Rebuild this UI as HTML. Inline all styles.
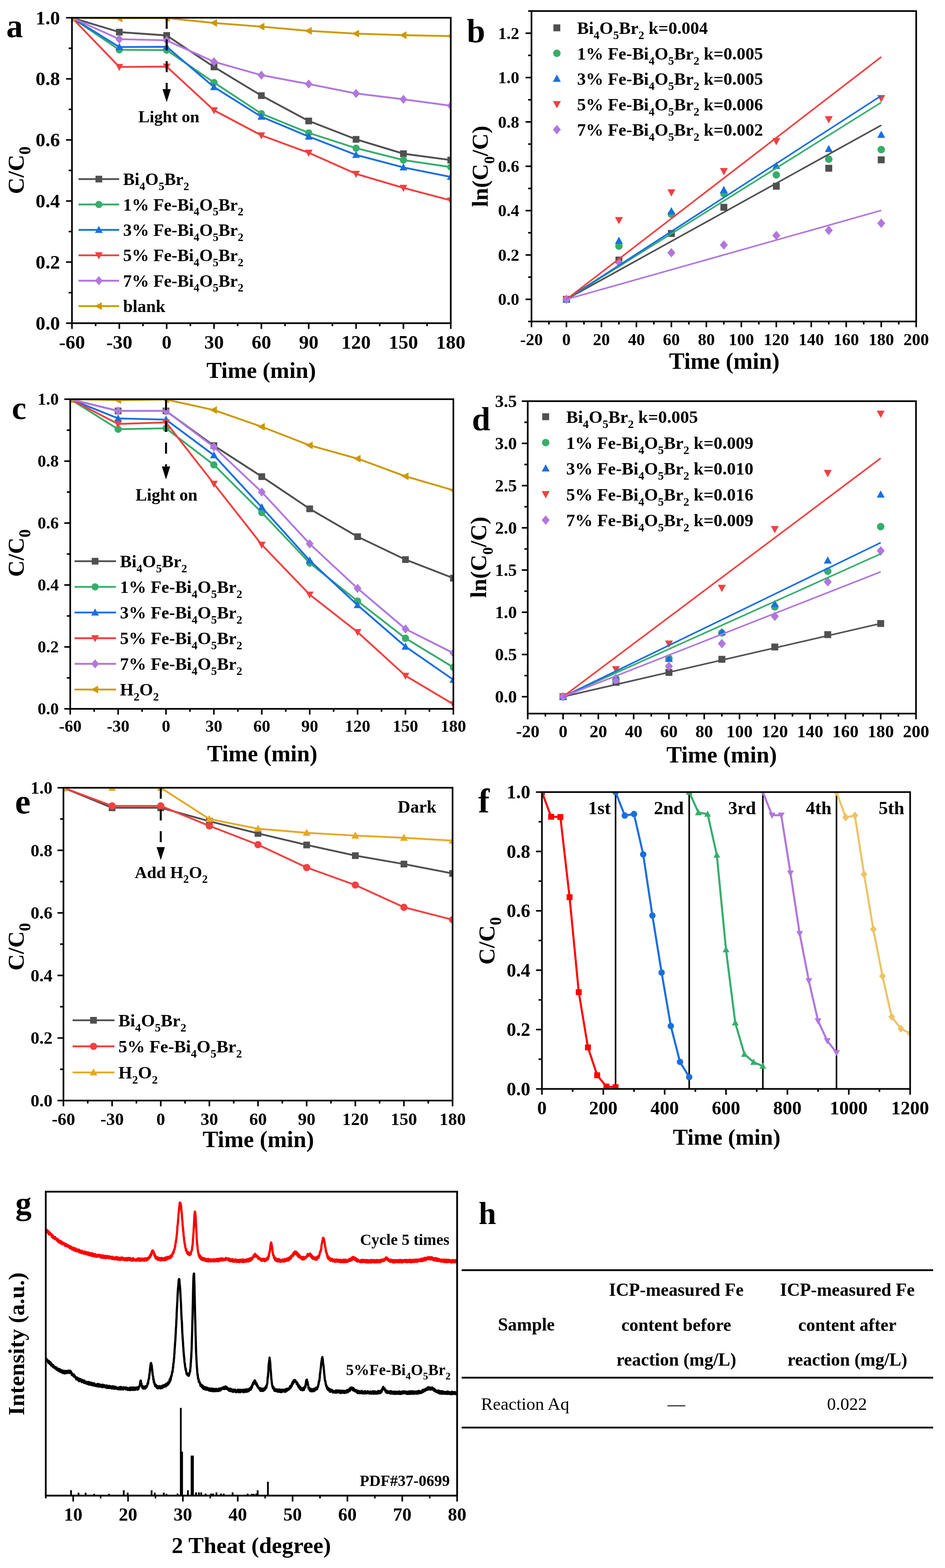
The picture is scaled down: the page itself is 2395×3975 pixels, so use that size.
<!DOCTYPE html><html><head><meta charset="utf-8"><style>html,body{margin:0;padding:0;background:#fff}svg{display:block}text{font-family:"Liberation Serif","Times New Roman",serif;font-weight:bold;fill:#000}</style></head><body>
<svg width="2395" height="3975" viewBox="0 0 2395 3975">
<rect width="2395" height="3975" fill="#fff"/>
<clipPath id="clp1"><rect x="182.4" y="45" width="960" height="774.3"/></clipPath>
<g clip-path="url(#clp1)">
<polyline points="182.4,45 302.4,81.4 422.4,89.9 542.4,169.7 662.4,242.4 782.4,306.7 902.4,353.2 1022.4,389.6 1142.4,405.8" fill="none" stroke="#505050" stroke-width="4.6" stroke-linejoin="round"/>
<rect x="173.9" y="36.5" width="17" height="17" fill="#505050"/>
<rect x="293.9" y="72.9" width="17" height="17" fill="#505050"/>
<rect x="413.9" y="81.4" width="17" height="17" fill="#505050"/>
<rect x="533.9" y="161.2" width="17" height="17" fill="#505050"/>
<rect x="653.9" y="233.9" width="17" height="17" fill="#505050"/>
<rect x="773.9" y="298.2" width="17" height="17" fill="#505050"/>
<rect x="893.9" y="344.7" width="17" height="17" fill="#505050"/>
<rect x="1013.9" y="381.1" width="17" height="17" fill="#505050"/>
<rect x="1133.9" y="397.3" width="17" height="17" fill="#505050"/>
<polyline points="182.4,45 302.4,126.3 422.4,127.1 542.4,209.2 662.4,288.1 782.4,336.9 902.4,375.6 1022.4,405.8 1142.4,423.6" fill="none" stroke="#37AD6B" stroke-width="4.6" stroke-linejoin="round"/>
<circle cx="182.4" cy="45" r="9.2" fill="#37AD6B"/>
<circle cx="302.4" cy="126.3" r="9.2" fill="#37AD6B"/>
<circle cx="422.4" cy="127.1" r="9.2" fill="#37AD6B"/>
<circle cx="542.4" cy="209.2" r="9.2" fill="#37AD6B"/>
<circle cx="662.4" cy="288.1" r="9.2" fill="#37AD6B"/>
<circle cx="782.4" cy="336.9" r="9.2" fill="#37AD6B"/>
<circle cx="902.4" cy="375.6" r="9.2" fill="#37AD6B"/>
<circle cx="1022.4" cy="405.8" r="9.2" fill="#37AD6B"/>
<circle cx="1142.4" cy="423.6" r="9.2" fill="#37AD6B"/>
<polyline points="182.4,45 302.4,119.3 422.4,118.6 542.4,220.8 662.4,295.9 782.4,346.2 902.4,392.7 1022.4,424.4 1142.4,448.4" fill="none" stroke="#1A6FDF" stroke-width="4.6" stroke-linejoin="round"/>
<polygon points="182.4,34.8 172.6,52.6 192.2,52.6" fill="#1A6FDF"/>
<polygon points="302.4,109.1 292.6,127 312.2,127" fill="#1A6FDF"/>
<polygon points="422.4,108.4 412.6,126.2 432.2,126.2" fill="#1A6FDF"/>
<polygon points="542.4,210.6 532.6,228.4 552.2,228.4" fill="#1A6FDF"/>
<polygon points="662.4,285.7 652.6,303.5 672.2,303.5" fill="#1A6FDF"/>
<polygon points="782.4,336 772.6,353.9 792.2,353.9" fill="#1A6FDF"/>
<polygon points="902.4,382.5 892.6,400.3 912.2,400.3" fill="#1A6FDF"/>
<polygon points="1022.4,414.2 1012.6,432.1 1032.2,432.1" fill="#1A6FDF"/>
<polygon points="1142.4,438.2 1132.6,456.1 1152.2,456.1" fill="#1A6FDF"/>
<polyline points="182.4,45 302.4,169.7 422.4,168.9 542.4,279.6 662.4,343.1 782.4,387.2 902.4,440.7 1022.4,476.3 1142.4,508" fill="none" stroke="#F14040" stroke-width="4.6" stroke-linejoin="round"/>
<polygon points="182.4,55.2 172.6,37.4 192.2,37.4" fill="#F14040"/>
<polygon points="302.4,179.9 292.6,162 312.2,162" fill="#F14040"/>
<polygon points="422.4,179.1 412.6,161.2 432.2,161.2" fill="#F14040"/>
<polygon points="542.4,289.8 532.6,272 552.2,272" fill="#F14040"/>
<polygon points="662.4,353.3 652.6,335.5 672.2,335.5" fill="#F14040"/>
<polygon points="782.4,397.4 772.6,379.6 792.2,379.6" fill="#F14040"/>
<polygon points="902.4,450.9 892.6,433 912.2,433" fill="#F14040"/>
<polygon points="1022.4,486.5 1012.6,468.6 1032.2,468.6" fill="#F14040"/>
<polygon points="1142.4,518.2 1132.6,500.4 1152.2,500.4" fill="#F14040"/>
<polyline points="182.4,45 302.4,99.2 422.4,102.3 542.4,156.5 662.4,190.6 782.4,213 902.4,237 1022.4,251.7 1142.4,268" fill="none" stroke="#B177DE" stroke-width="4.6" stroke-linejoin="round"/>
<polygon points="182.4,33.4 192.2,45 182.4,56.6 172.6,45" fill="#B177DE"/>
<polygon points="302.4,87.6 312.2,99.2 302.4,110.8 292.6,99.2" fill="#B177DE"/>
<polygon points="422.4,90.7 432.2,102.3 422.4,113.9 412.6,102.3" fill="#B177DE"/>
<polygon points="542.4,144.9 552.2,156.5 542.4,168.1 532.6,156.5" fill="#B177DE"/>
<polygon points="662.4,179 672.2,190.6 662.4,202.1 652.6,190.6" fill="#B177DE"/>
<polygon points="782.4,201.5 792.2,213 782.4,224.6 772.6,213" fill="#B177DE"/>
<polygon points="902.4,225.5 912.2,237 902.4,248.6 892.6,237" fill="#B177DE"/>
<polygon points="1022.4,240.2 1032.2,251.7 1022.4,263.3 1012.6,251.7" fill="#B177DE"/>
<polygon points="1142.4,256.4 1152.2,268 1142.4,279.6 1132.6,268" fill="#B177DE"/>
<polyline points="182.4,45 302.4,46.5 422.4,45.8 542.4,58.2 662.4,67.5 782.4,78.3 902.4,85.3 1022.4,89.1 1142.4,91.5" fill="none" stroke="#CC9900" stroke-width="4.6" stroke-linejoin="round"/>
<polygon points="172.2,45 190.1,35.2 190.1,54.8" fill="#CC9900"/>
<polygon points="292.2,46.5 310.1,36.8 310.1,56.3" fill="#CC9900"/>
<polygon points="412.2,45.8 430.1,36 430.1,55.5" fill="#CC9900"/>
<polygon points="532.2,58.2 550.1,48.4 550.1,67.9" fill="#CC9900"/>
<polygon points="652.2,67.5 670.1,57.7 670.1,77.2" fill="#CC9900"/>
<polygon points="772.2,78.3 790.1,68.5 790.1,88.1" fill="#CC9900"/>
<polygon points="892.2,85.3 910.1,75.5 910.1,95" fill="#CC9900"/>
<polygon points="1012.2,89.1 1030.1,79.4 1030.1,98.9" fill="#CC9900"/>
<polygon points="1132.2,91.5 1150.1,81.7 1150.1,101.2" fill="#CC9900"/>
</g>
<rect x="182.4" y="45" width="960" height="774.3" fill="none" stroke="#000" stroke-width="4.2"/>
<line x1="182.4" y1="819.3" x2="182.4" y2="833.8" stroke="#000" stroke-width="4"/>
<line x1="302.4" y1="819.3" x2="302.4" y2="833.8" stroke="#000" stroke-width="4"/>
<line x1="422.4" y1="819.3" x2="422.4" y2="833.8" stroke="#000" stroke-width="4"/>
<line x1="542.4" y1="819.3" x2="542.4" y2="833.8" stroke="#000" stroke-width="4"/>
<line x1="662.4" y1="819.3" x2="662.4" y2="833.8" stroke="#000" stroke-width="4"/>
<line x1="782.4" y1="819.3" x2="782.4" y2="833.8" stroke="#000" stroke-width="4"/>
<line x1="902.4" y1="819.3" x2="902.4" y2="833.8" stroke="#000" stroke-width="4"/>
<line x1="1022.4" y1="819.3" x2="1022.4" y2="833.8" stroke="#000" stroke-width="4"/>
<line x1="1142.4" y1="819.3" x2="1142.4" y2="833.8" stroke="#000" stroke-width="4"/>
<line x1="242.4" y1="819.3" x2="242.4" y2="826.8" stroke="#000" stroke-width="4"/>
<line x1="362.4" y1="819.3" x2="362.4" y2="826.8" stroke="#000" stroke-width="4"/>
<line x1="482.4" y1="819.3" x2="482.4" y2="826.8" stroke="#000" stroke-width="4"/>
<line x1="602.4" y1="819.3" x2="602.4" y2="826.8" stroke="#000" stroke-width="4"/>
<line x1="722.4" y1="819.3" x2="722.4" y2="826.8" stroke="#000" stroke-width="4"/>
<line x1="842.4" y1="819.3" x2="842.4" y2="826.8" stroke="#000" stroke-width="4"/>
<line x1="962.4" y1="819.3" x2="962.4" y2="826.8" stroke="#000" stroke-width="4"/>
<line x1="1082.4" y1="819.3" x2="1082.4" y2="826.8" stroke="#000" stroke-width="4"/>
<text x="182.4" y="884" font-size="49.5" text-anchor="middle">-60</text>
<text x="302.4" y="884" font-size="49.5" text-anchor="middle">-30</text>
<text x="422.4" y="884" font-size="49.5" text-anchor="middle">0</text>
<text x="542.4" y="884" font-size="49.5" text-anchor="middle">30</text>
<text x="662.4" y="884" font-size="49.5" text-anchor="middle">60</text>
<text x="782.4" y="884" font-size="49.5" text-anchor="middle">90</text>
<text x="902.4" y="884" font-size="49.5" text-anchor="middle">120</text>
<text x="1022.4" y="884" font-size="49.5" text-anchor="middle">150</text>
<text x="1142.4" y="884" font-size="49.5" text-anchor="middle">180</text>
<line x1="167.4" y1="819.3" x2="182.4" y2="819.3" stroke="#000" stroke-width="4"/>
<line x1="167.4" y1="664.4" x2="182.4" y2="664.4" stroke="#000" stroke-width="4"/>
<line x1="167.4" y1="509.6" x2="182.4" y2="509.6" stroke="#000" stroke-width="4"/>
<line x1="167.4" y1="354.7" x2="182.4" y2="354.7" stroke="#000" stroke-width="4"/>
<line x1="167.4" y1="199.9" x2="182.4" y2="199.9" stroke="#000" stroke-width="4"/>
<line x1="167.4" y1="45" x2="182.4" y2="45" stroke="#000" stroke-width="4"/>
<line x1="173.9" y1="741.9" x2="182.4" y2="741.9" stroke="#000" stroke-width="4"/>
<line x1="173.9" y1="587" x2="182.4" y2="587" stroke="#000" stroke-width="4"/>
<line x1="173.9" y1="432.1" x2="182.4" y2="432.1" stroke="#000" stroke-width="4"/>
<line x1="173.9" y1="277.3" x2="182.4" y2="277.3" stroke="#000" stroke-width="4"/>
<line x1="173.9" y1="122.4" x2="182.4" y2="122.4" stroke="#000" stroke-width="4"/>
<text x="152" y="835.9" font-size="49.5" text-anchor="end">0.0</text>
<text x="152" y="681" font-size="49.5" text-anchor="end">0.2</text>
<text x="152" y="526.2" font-size="49.5" text-anchor="end">0.4</text>
<text x="152" y="371.3" font-size="49.5" text-anchor="end">0.6</text>
<text x="152" y="216.4" font-size="49.5" text-anchor="end">0.8</text>
<text x="152" y="61.6" font-size="49.5" text-anchor="end">1.0</text>
<line x1="199" y1="454" x2="302" y2="454" stroke="#505050" stroke-width="4.6"/>
<rect x="242" y="445.5" width="17" height="17" fill="#505050"/>
<text x="312" y="469.1" font-size="43.8" text-anchor="start">Bi<tspan font-size="28.9" dy="12.7">4</tspan><tspan dy="-12.7">O</tspan><tspan font-size="28.9" dy="12.7">5</tspan><tspan dy="-12.7">Br</tspan><tspan font-size="28.9" dy="12.7">2</tspan></text>
<line x1="199" y1="518.4" x2="302" y2="518.4" stroke="#37AD6B" stroke-width="4.6"/>
<circle cx="250.5" cy="518.4" r="9.2" fill="#37AD6B"/>
<text x="312" y="533.5" font-size="43.8" text-anchor="start">1% Fe-Bi<tspan font-size="28.9" dy="12.7">4</tspan><tspan dy="-12.7">O</tspan><tspan font-size="28.9" dy="12.7">5</tspan><tspan dy="-12.7">Br</tspan><tspan font-size="28.9" dy="12.7">2</tspan></text>
<line x1="199" y1="582.8" x2="302" y2="582.8" stroke="#1A6FDF" stroke-width="4.6"/>
<polygon points="250.5,572.6 240.7,590.4 260.3,590.4" fill="#1A6FDF"/>
<text x="312" y="597.9" font-size="43.8" text-anchor="start">3% Fe-Bi<tspan font-size="28.9" dy="12.7">4</tspan><tspan dy="-12.7">O</tspan><tspan font-size="28.9" dy="12.7">5</tspan><tspan dy="-12.7">Br</tspan><tspan font-size="28.9" dy="12.7">2</tspan></text>
<line x1="199" y1="647.2" x2="302" y2="647.2" stroke="#F14040" stroke-width="4.6"/>
<polygon points="250.5,657.4 240.7,639.6 260.3,639.6" fill="#F14040"/>
<text x="312" y="662.3" font-size="43.8" text-anchor="start">5% Fe-Bi<tspan font-size="28.9" dy="12.7">4</tspan><tspan dy="-12.7">O</tspan><tspan font-size="28.9" dy="12.7">5</tspan><tspan dy="-12.7">Br</tspan><tspan font-size="28.9" dy="12.7">2</tspan></text>
<line x1="199" y1="711.6" x2="302" y2="711.6" stroke="#B177DE" stroke-width="4.6"/>
<polygon points="250.5,700 260.3,711.6 250.5,723.2 240.7,711.6" fill="#B177DE"/>
<text x="312" y="726.7" font-size="43.8" text-anchor="start">7% Fe-Bi<tspan font-size="28.9" dy="12.7">4</tspan><tspan dy="-12.7">O</tspan><tspan font-size="28.9" dy="12.7">5</tspan><tspan dy="-12.7">Br</tspan><tspan font-size="28.9" dy="12.7">2</tspan></text>
<line x1="199" y1="776" x2="302" y2="776" stroke="#CC9900" stroke-width="4.6"/>
<polygon points="240.3,776 258.1,766.2 258.1,785.8" fill="#CC9900"/>
<text x="312" y="791.1" font-size="43.8" text-anchor="start">blank</text>
<text x="662" y="958" font-size="58" text-anchor="middle">Time (min)</text>
<text transform="translate(60,431.5) rotate(-90)" x="0" y="0" font-size="58" text-anchor="middle">C/C<tspan font-size="41.8" dy="16.8">0</tspan></text>
<text x="16" y="94" font-size="84" text-anchor="start">a</text>
<line x1="422.4" y1="45" x2="422.4" y2="73" stroke="#000" stroke-width="5"/>
<line x1="422.4" y1="100" x2="422.4" y2="128" stroke="#000" stroke-width="5"/>
<line x1="422.4" y1="155" x2="422.4" y2="183" stroke="#000" stroke-width="5"/>
<line x1="422.4" y1="210" x2="422.4" y2="226" stroke="#000" stroke-width="5"/>
<polygon points="411.9,226 432.9,226 422.4,259" fill="#000"/>
<text x="428" y="309.5" font-size="43" text-anchor="middle" textLength="155" lengthAdjust="spacing">Light on</text>
<rect x="1426.9" y="750" width="17.5" height="17.5" fill="#505050"/>
<rect x="1559.8" y="650.5" width="17.5" height="17.5" fill="#505050"/>
<rect x="1692.8" y="583.1" width="17.5" height="17.5" fill="#505050"/>
<rect x="1825.8" y="516.7" width="17.5" height="17.5" fill="#505050"/>
<rect x="1958.7" y="463.3" width="17.5" height="17.5" fill="#505050"/>
<rect x="2091.7" y="417.8" width="17.5" height="17.5" fill="#505050"/>
<rect x="2224.6" y="396.4" width="17.5" height="17.5" fill="#505050"/>
<circle cx="1435.6" cy="758.8" r="9.5" fill="#37AD6B"/>
<circle cx="1568.6" cy="623.9" r="9.5" fill="#37AD6B"/>
<circle cx="1701.5" cy="542.9" r="9.5" fill="#37AD6B"/>
<circle cx="1834.5" cy="490.6" r="9.5" fill="#37AD6B"/>
<circle cx="1967.5" cy="443.4" r="9.5" fill="#37AD6B"/>
<circle cx="2100.4" cy="403.5" r="9.5" fill="#37AD6B"/>
<circle cx="2233.4" cy="379.3" r="9.5" fill="#37AD6B"/>
<polygon points="1435.6,748.3 1425.6,766.7 1445.7,766.7" fill="#1A6FDF"/>
<polygon points="1568.6,599.9 1558.5,618.3 1578.7,618.3" fill="#1A6FDF"/>
<polygon points="1701.5,525.1 1691.5,543.5 1711.6,543.5" fill="#1A6FDF"/>
<polygon points="1834.5,471.1 1824.4,489.5 1844.6,489.5" fill="#1A6FDF"/>
<polygon points="1967.5,409.9 1957.4,428.3 1977.5,428.3" fill="#1A6FDF"/>
<polygon points="2100.4,367.2 2090.3,385.5 2110.5,385.5" fill="#1A6FDF"/>
<polygon points="2233.4,331.2 2223.3,349.6 2243.4,349.6" fill="#1A6FDF"/>
<polygon points="1435.6,769.3 1425.6,750.9 1445.7,750.9" fill="#F14040"/>
<polygon points="1568.6,568.6 1558.5,550.2 1578.7,550.2" fill="#F14040"/>
<polygon points="1701.5,498.3 1691.5,480 1711.6,480" fill="#F14040"/>
<polygon points="1834.5,444.4 1824.4,426 1844.6,426" fill="#F14040"/>
<polygon points="1967.5,368.5 1957.4,350.1 1977.5,350.1" fill="#F14040"/>
<polygon points="2100.4,312.8 2090.3,294.5 2110.5,294.5" fill="#F14040"/>
<polygon points="2233.4,259.4 2223.3,241 2243.4,241" fill="#F14040"/>
<polygon points="1435.6,746.9 1445.8,758.8 1435.6,770.7 1425.5,758.8" fill="#B177DE"/>
<polygon points="1568.6,653.6 1578.7,665.5 1568.6,677.4 1558.5,665.5" fill="#B177DE"/>
<polygon points="1701.5,628.8 1711.7,640.7 1701.5,652.6 1691.4,640.7" fill="#B177DE"/>
<polygon points="1834.5,609.2 1844.6,621.1 1834.5,633 1824.4,621.1" fill="#B177DE"/>
<polygon points="1967.5,585 1977.6,596.9 1967.5,608.8 1957.3,596.9" fill="#B177DE"/>
<polygon points="2100.4,572.1 2110.5,584 2100.4,595.9 2090.3,584" fill="#B177DE"/>
<polygon points="2233.4,554.1 2243.5,566 2233.4,577.9 2223.2,566" fill="#B177DE"/>
<line x1="1435.6" y1="758.8" x2="2233.4" y2="317.5" stroke="#505050" stroke-width="4"/>
<line x1="1435.6" y1="758.8" x2="2233.4" y2="259.6" stroke="#37AD6B" stroke-width="4"/>
<line x1="1435.6" y1="758.8" x2="2233.4" y2="242.7" stroke="#1A6FDF" stroke-width="4"/>
<line x1="1435.6" y1="758.8" x2="2233.4" y2="144.4" stroke="#F14040" stroke-width="4"/>
<line x1="1435.6" y1="758.8" x2="2233.4" y2="533.4" stroke="#B177DE" stroke-width="4"/>
<rect x="1347" y="28" width="975" height="787" fill="none" stroke="#000" stroke-width="4.2"/>
<line x1="1347" y1="815" x2="1347" y2="829.5" stroke="#000" stroke-width="4"/>
<line x1="1435.6" y1="815" x2="1435.6" y2="829.5" stroke="#000" stroke-width="4"/>
<line x1="1524.3" y1="815" x2="1524.3" y2="829.5" stroke="#000" stroke-width="4"/>
<line x1="1612.9" y1="815" x2="1612.9" y2="829.5" stroke="#000" stroke-width="4"/>
<line x1="1701.5" y1="815" x2="1701.5" y2="829.5" stroke="#000" stroke-width="4"/>
<line x1="1790.2" y1="815" x2="1790.2" y2="829.5" stroke="#000" stroke-width="4"/>
<line x1="1878.8" y1="815" x2="1878.8" y2="829.5" stroke="#000" stroke-width="4"/>
<line x1="1967.5" y1="815" x2="1967.5" y2="829.5" stroke="#000" stroke-width="4"/>
<line x1="2056.1" y1="815" x2="2056.1" y2="829.5" stroke="#000" stroke-width="4"/>
<line x1="2144.7" y1="815" x2="2144.7" y2="829.5" stroke="#000" stroke-width="4"/>
<line x1="2233.4" y1="815" x2="2233.4" y2="829.5" stroke="#000" stroke-width="4"/>
<line x1="2322" y1="815" x2="2322" y2="829.5" stroke="#000" stroke-width="4"/>
<line x1="1391.3" y1="815" x2="1391.3" y2="822.5" stroke="#000" stroke-width="4"/>
<line x1="1480" y1="815" x2="1480" y2="822.5" stroke="#000" stroke-width="4"/>
<line x1="1568.6" y1="815" x2="1568.6" y2="822.5" stroke="#000" stroke-width="4"/>
<line x1="1657.2" y1="815" x2="1657.2" y2="822.5" stroke="#000" stroke-width="4"/>
<line x1="1745.9" y1="815" x2="1745.9" y2="822.5" stroke="#000" stroke-width="4"/>
<line x1="1834.5" y1="815" x2="1834.5" y2="822.5" stroke="#000" stroke-width="4"/>
<line x1="1923.1" y1="815" x2="1923.1" y2="822.5" stroke="#000" stroke-width="4"/>
<line x1="2011.8" y1="815" x2="2011.8" y2="822.5" stroke="#000" stroke-width="4"/>
<line x1="2100.4" y1="815" x2="2100.4" y2="822.5" stroke="#000" stroke-width="4"/>
<line x1="2189" y1="815" x2="2189" y2="822.5" stroke="#000" stroke-width="4"/>
<line x1="2277.7" y1="815" x2="2277.7" y2="822.5" stroke="#000" stroke-width="4"/>
<text x="1347" y="875" font-size="43" text-anchor="middle">-20</text>
<text x="1435.6" y="875" font-size="43" text-anchor="middle">0</text>
<text x="1524.3" y="875" font-size="43" text-anchor="middle">20</text>
<text x="1612.9" y="875" font-size="43" text-anchor="middle">40</text>
<text x="1701.5" y="875" font-size="43" text-anchor="middle">60</text>
<text x="1790.2" y="875" font-size="43" text-anchor="middle">80</text>
<text x="1878.8" y="875" font-size="43" text-anchor="middle">100</text>
<text x="1967.5" y="875" font-size="43" text-anchor="middle">120</text>
<text x="2056.1" y="875" font-size="43" text-anchor="middle">140</text>
<text x="2144.7" y="875" font-size="43" text-anchor="middle">160</text>
<text x="2233.4" y="875" font-size="43" text-anchor="middle">180</text>
<text x="2322" y="875" font-size="43" text-anchor="middle">200</text>
<line x1="1332" y1="758.8" x2="1347" y2="758.8" stroke="#000" stroke-width="4"/>
<line x1="1332" y1="646.4" x2="1347" y2="646.4" stroke="#000" stroke-width="4"/>
<line x1="1332" y1="533.9" x2="1347" y2="533.9" stroke="#000" stroke-width="4"/>
<line x1="1332" y1="421.5" x2="1347" y2="421.5" stroke="#000" stroke-width="4"/>
<line x1="1332" y1="309.1" x2="1347" y2="309.1" stroke="#000" stroke-width="4"/>
<line x1="1332" y1="196.6" x2="1347" y2="196.6" stroke="#000" stroke-width="4"/>
<line x1="1332" y1="84.2" x2="1347" y2="84.2" stroke="#000" stroke-width="4"/>
<line x1="1338.5" y1="815" x2="1347" y2="815" stroke="#000" stroke-width="4"/>
<line x1="1338.5" y1="702.6" x2="1347" y2="702.6" stroke="#000" stroke-width="4"/>
<line x1="1338.5" y1="590.1" x2="1347" y2="590.1" stroke="#000" stroke-width="4"/>
<line x1="1338.5" y1="477.7" x2="1347" y2="477.7" stroke="#000" stroke-width="4"/>
<line x1="1338.5" y1="365.3" x2="1347" y2="365.3" stroke="#000" stroke-width="4"/>
<line x1="1338.5" y1="252.9" x2="1347" y2="252.9" stroke="#000" stroke-width="4"/>
<line x1="1338.5" y1="140.4" x2="1347" y2="140.4" stroke="#000" stroke-width="4"/>
<line x1="1338.5" y1="28" x2="1347" y2="28" stroke="#000" stroke-width="4"/>
<text x="1316" y="773.2" font-size="43" text-anchor="end">0.0</text>
<text x="1316" y="660.8" font-size="43" text-anchor="end">0.2</text>
<text x="1316" y="548.3" font-size="43" text-anchor="end">0.4</text>
<text x="1316" y="435.9" font-size="43" text-anchor="end">0.6</text>
<text x="1316" y="323.5" font-size="43" text-anchor="end">0.8</text>
<text x="1316" y="211" font-size="43" text-anchor="end">1.0</text>
<text x="1316" y="98.6" font-size="43" text-anchor="end">1.2</text>
<rect x="1402.5" y="61.8" width="17.5" height="17.5" fill="#505050"/>
<text x="1462.5" y="86.2" font-size="44.5" text-anchor="start">Bi<tspan font-size="29.4" dy="12.9">4</tspan><tspan dy="-12.9">O</tspan><tspan font-size="29.4" dy="12.9">5</tspan><tspan dy="-12.9">Br</tspan><tspan font-size="29.4" dy="12.9">2</tspan><tspan dy="-12.9"> k=0.004</tspan></text>
<circle cx="1411.3" cy="135.1" r="9.5" fill="#37AD6B"/>
<text x="1462.5" y="150.7" font-size="44.5" text-anchor="start">1% Fe-Bi<tspan font-size="29.4" dy="12.9">4</tspan><tspan dy="-12.9">O</tspan><tspan font-size="29.4" dy="12.9">5</tspan><tspan dy="-12.9">Br</tspan><tspan font-size="29.4" dy="12.9">2</tspan><tspan dy="-12.9"> k=0.005</tspan></text>
<polygon points="1411.3,189.1 1401.2,207.5 1421.4,207.5" fill="#1A6FDF"/>
<text x="1462.5" y="215.2" font-size="44.5" text-anchor="start">3% Fe-Bi<tspan font-size="29.4" dy="12.9">4</tspan><tspan dy="-12.9">O</tspan><tspan font-size="29.4" dy="12.9">5</tspan><tspan dy="-12.9">Br</tspan><tspan font-size="29.4" dy="12.9">2</tspan><tspan dy="-12.9"> k=0.005</tspan></text>
<polygon points="1411.3,274.6 1401.2,256.2 1421.4,256.2" fill="#F14040"/>
<text x="1462.5" y="279.7" font-size="44.5" text-anchor="start">5% Fe-Bi<tspan font-size="29.4" dy="12.9">4</tspan><tspan dy="-12.9">O</tspan><tspan font-size="29.4" dy="12.9">5</tspan><tspan dy="-12.9">Br</tspan><tspan font-size="29.4" dy="12.9">2</tspan><tspan dy="-12.9"> k=0.006</tspan></text>
<polygon points="1411.3,316.7 1421.4,328.6 1411.3,340.5 1401.2,328.6" fill="#B177DE"/>
<text x="1462.5" y="344.2" font-size="44.5" text-anchor="start">7% Fe-Bi<tspan font-size="29.4" dy="12.9">4</tspan><tspan dy="-12.9">O</tspan><tspan font-size="29.4" dy="12.9">5</tspan><tspan dy="-12.9">Br</tspan><tspan font-size="29.4" dy="12.9">2</tspan><tspan dy="-12.9"> k=0.002</tspan></text>
<text x="1835.7" y="934.8" font-size="58.5" text-anchor="middle">Time (min)</text>
<text transform="translate(1236,421.8) rotate(-90)" x="0" y="0" font-size="58" text-anchor="middle">ln(C<tspan font-size="38.3" dy="16.8">0</tspan><tspan dy="-16.8">/C)</tspan></text>
<text x="1183" y="106.5" font-size="84" text-anchor="start">b</text>
<clipPath id="clp2"><rect x="178" y="1012" width="971" height="785"/></clipPath>
<g clip-path="url(#clp2)">
<polyline points="178,1012 299.4,1041.8 420.8,1041.8 542.1,1129.8 663.5,1208.2 784.9,1289.9 906.2,1360.5 1027.6,1418.6 1149,1465.7" fill="none" stroke="#505050" stroke-width="4.6" stroke-linejoin="round"/>
<rect x="169.5" y="1003.5" width="17" height="17" fill="#505050"/>
<rect x="290.9" y="1033.3" width="17" height="17" fill="#505050"/>
<rect x="412.2" y="1033.3" width="17" height="17" fill="#505050"/>
<rect x="533.6" y="1121.2" width="17" height="17" fill="#505050"/>
<rect x="655" y="1199.8" width="17" height="17" fill="#505050"/>
<rect x="776.4" y="1281.4" width="17" height="17" fill="#505050"/>
<rect x="897.8" y="1352" width="17" height="17" fill="#505050"/>
<rect x="1019.1" y="1410.1" width="17" height="17" fill="#505050"/>
<rect x="1140.5" y="1457.2" width="17" height="17" fill="#505050"/>
<polyline points="178,1012 299.4,1088.1 420.8,1085.8 542.1,1178.4 663.5,1299.3 784.9,1427.3 906.2,1523.8 1027.6,1618 1149,1691.8" fill="none" stroke="#37AD6B" stroke-width="4.6" stroke-linejoin="round"/>
<circle cx="178" cy="1012" r="9.2" fill="#37AD6B"/>
<circle cx="299.4" cy="1088.1" r="9.2" fill="#37AD6B"/>
<circle cx="420.8" cy="1085.8" r="9.2" fill="#37AD6B"/>
<circle cx="542.1" cy="1178.4" r="9.2" fill="#37AD6B"/>
<circle cx="663.5" cy="1299.3" r="9.2" fill="#37AD6B"/>
<circle cx="784.9" cy="1427.3" r="9.2" fill="#37AD6B"/>
<circle cx="906.2" cy="1523.8" r="9.2" fill="#37AD6B"/>
<circle cx="1027.6" cy="1618" r="9.2" fill="#37AD6B"/>
<circle cx="1149" cy="1691.8" r="9.2" fill="#37AD6B"/>
<polyline points="178,1012 299.4,1060.7 420.8,1063.8 542.1,1154.1 663.5,1286 784.9,1421 906.2,1534 1027.6,1639.2 1149,1723.2" fill="none" stroke="#1A6FDF" stroke-width="4.6" stroke-linejoin="round"/>
<polygon points="178,1001.8 168.2,1019.6 187.8,1019.6" fill="#1A6FDF"/>
<polygon points="299.4,1050.5 289.6,1068.3 309.1,1068.3" fill="#1A6FDF"/>
<polygon points="420.8,1053.6 411,1071.5 430.5,1071.5" fill="#1A6FDF"/>
<polygon points="542.1,1143.9 532.4,1161.7 551.9,1161.7" fill="#1A6FDF"/>
<polygon points="663.5,1275.8 653.7,1293.6 673.3,1293.6" fill="#1A6FDF"/>
<polygon points="784.9,1410.8 775.1,1428.6 794.6,1428.6" fill="#1A6FDF"/>
<polygon points="906.2,1523.8 896.5,1541.7 916,1541.7" fill="#1A6FDF"/>
<polygon points="1027.6,1629 1017.9,1646.9 1037.4,1646.9" fill="#1A6FDF"/>
<polygon points="1149,1713 1139.2,1730.9 1158.8,1730.9" fill="#1A6FDF"/>
<polyline points="178,1012 299.4,1074.8 420.8,1070.9 542.1,1226.3 663.5,1381 784.9,1507.3 906.2,1602.3 1027.6,1713 1149,1785.2" fill="none" stroke="#F14040" stroke-width="4.6" stroke-linejoin="round"/>
<polygon points="178,1022.2 168.2,1004.4 187.8,1004.4" fill="#F14040"/>
<polygon points="299.4,1085 289.6,1067.1 309.1,1067.1" fill="#F14040"/>
<polygon points="420.8,1081.1 411,1063.2 430.5,1063.2" fill="#F14040"/>
<polygon points="542.1,1236.5 532.4,1218.7 551.9,1218.7" fill="#F14040"/>
<polygon points="663.5,1391.2 653.7,1373.3 673.3,1373.3" fill="#F14040"/>
<polygon points="784.9,1517.5 775.1,1499.7 794.6,1499.7" fill="#F14040"/>
<polygon points="906.2,1612.5 896.5,1594.7 916,1594.7" fill="#F14040"/>
<polygon points="1027.6,1723.2 1017.9,1705.4 1037.4,1705.4" fill="#F14040"/>
<polygon points="1149,1795.4 1139.2,1777.6 1158.8,1777.6" fill="#F14040"/>
<polyline points="178,1012 299.4,1041.8 420.8,1041.8 542.1,1132.9 663.5,1247.5 784.9,1378.6 906.2,1491.6 1027.6,1594.5 1149,1655.7" fill="none" stroke="#B177DE" stroke-width="4.6" stroke-linejoin="round"/>
<polygon points="178,1000.4 187.8,1012 178,1023.6 168.2,1012" fill="#B177DE"/>
<polygon points="299.4,1030.3 309.2,1041.8 299.4,1053.4 289.5,1041.8" fill="#B177DE"/>
<polygon points="420.8,1030.3 430.6,1041.8 420.8,1053.4 410.9,1041.8" fill="#B177DE"/>
<polygon points="542.1,1121.3 552,1132.9 542.1,1144.4 532.3,1132.9" fill="#B177DE"/>
<polygon points="663.5,1235.9 673.3,1247.5 663.5,1259.1 653.7,1247.5" fill="#B177DE"/>
<polygon points="784.9,1367 794.7,1378.6 784.9,1390.2 775,1378.6" fill="#B177DE"/>
<polygon points="906.2,1480.1 916.1,1491.6 906.2,1503.2 896.4,1491.6" fill="#B177DE"/>
<polygon points="1027.6,1582.9 1037.5,1594.5 1027.6,1606 1017.8,1594.5" fill="#B177DE"/>
<polygon points="1149,1644.1 1158.8,1655.7 1149,1667.3 1139.2,1655.7" fill="#B177DE"/>
<polyline points="178,1012 299.4,1014.4 420.8,1012.8 542.1,1039.5 663.5,1081.9 784.9,1129 906.2,1162.7 1027.6,1207.5 1149,1242.8" fill="none" stroke="#CC9900" stroke-width="4.6" stroke-linejoin="round"/>
<polygon points="167.8,1012 185.7,1002.2 185.7,1021.8" fill="#CC9900"/>
<polygon points="289.2,1014.4 307,1004.6 307,1024.1" fill="#CC9900"/>
<polygon points="410.6,1012.8 428.4,1003 428.4,1022.6" fill="#CC9900"/>
<polygon points="531.9,1039.5 549.8,1029.7 549.8,1049.2" fill="#CC9900"/>
<polygon points="653.3,1081.9 671.1,1072.1 671.1,1091.6" fill="#CC9900"/>
<polygon points="774.7,1129 792.5,1119.2 792.5,1138.7" fill="#CC9900"/>
<polygon points="896,1162.7 913.9,1152.9 913.9,1172.5" fill="#CC9900"/>
<polygon points="1017.4,1207.5 1035.3,1197.7 1035.3,1217.2" fill="#CC9900"/>
<polygon points="1138.8,1242.8 1156.7,1233 1156.7,1252.6" fill="#CC9900"/>
</g>
<rect x="178" y="1012" width="971" height="785" fill="none" stroke="#000" stroke-width="4.2"/>
<line x1="178" y1="1797" x2="178" y2="1811.5" stroke="#000" stroke-width="4"/>
<line x1="299.4" y1="1797" x2="299.4" y2="1811.5" stroke="#000" stroke-width="4"/>
<line x1="420.8" y1="1797" x2="420.8" y2="1811.5" stroke="#000" stroke-width="4"/>
<line x1="542.1" y1="1797" x2="542.1" y2="1811.5" stroke="#000" stroke-width="4"/>
<line x1="663.5" y1="1797" x2="663.5" y2="1811.5" stroke="#000" stroke-width="4"/>
<line x1="784.9" y1="1797" x2="784.9" y2="1811.5" stroke="#000" stroke-width="4"/>
<line x1="906.2" y1="1797" x2="906.2" y2="1811.5" stroke="#000" stroke-width="4"/>
<line x1="1027.6" y1="1797" x2="1027.6" y2="1811.5" stroke="#000" stroke-width="4"/>
<line x1="1149" y1="1797" x2="1149" y2="1811.5" stroke="#000" stroke-width="4"/>
<line x1="238.7" y1="1797" x2="238.7" y2="1804.5" stroke="#000" stroke-width="4"/>
<line x1="360.1" y1="1797" x2="360.1" y2="1804.5" stroke="#000" stroke-width="4"/>
<line x1="481.4" y1="1797" x2="481.4" y2="1804.5" stroke="#000" stroke-width="4"/>
<line x1="602.8" y1="1797" x2="602.8" y2="1804.5" stroke="#000" stroke-width="4"/>
<line x1="724.2" y1="1797" x2="724.2" y2="1804.5" stroke="#000" stroke-width="4"/>
<line x1="845.6" y1="1797" x2="845.6" y2="1804.5" stroke="#000" stroke-width="4"/>
<line x1="966.9" y1="1797" x2="966.9" y2="1804.5" stroke="#000" stroke-width="4"/>
<line x1="1088.3" y1="1797" x2="1088.3" y2="1804.5" stroke="#000" stroke-width="4"/>
<text x="178" y="1855" font-size="43" text-anchor="middle">-60</text>
<text x="299.4" y="1855" font-size="43" text-anchor="middle">-30</text>
<text x="420.8" y="1855" font-size="43" text-anchor="middle">0</text>
<text x="542.1" y="1855" font-size="43" text-anchor="middle">30</text>
<text x="663.5" y="1855" font-size="43" text-anchor="middle">60</text>
<text x="784.9" y="1855" font-size="43" text-anchor="middle">90</text>
<text x="906.2" y="1855" font-size="43" text-anchor="middle">120</text>
<text x="1027.6" y="1855" font-size="43" text-anchor="middle">150</text>
<text x="1149" y="1855" font-size="43" text-anchor="middle">180</text>
<line x1="163" y1="1797" x2="178" y2="1797" stroke="#000" stroke-width="4"/>
<line x1="163" y1="1640" x2="178" y2="1640" stroke="#000" stroke-width="4"/>
<line x1="163" y1="1483" x2="178" y2="1483" stroke="#000" stroke-width="4"/>
<line x1="163" y1="1326" x2="178" y2="1326" stroke="#000" stroke-width="4"/>
<line x1="163" y1="1169" x2="178" y2="1169" stroke="#000" stroke-width="4"/>
<line x1="163" y1="1012" x2="178" y2="1012" stroke="#000" stroke-width="4"/>
<line x1="169.5" y1="1718.5" x2="178" y2="1718.5" stroke="#000" stroke-width="4"/>
<line x1="169.5" y1="1561.5" x2="178" y2="1561.5" stroke="#000" stroke-width="4"/>
<line x1="169.5" y1="1404.5" x2="178" y2="1404.5" stroke="#000" stroke-width="4"/>
<line x1="169.5" y1="1247.5" x2="178" y2="1247.5" stroke="#000" stroke-width="4"/>
<line x1="169.5" y1="1090.5" x2="178" y2="1090.5" stroke="#000" stroke-width="4"/>
<text x="149" y="1811.4" font-size="43" text-anchor="end">0.0</text>
<text x="149" y="1654.4" font-size="43" text-anchor="end">0.2</text>
<text x="149" y="1497.4" font-size="43" text-anchor="end">0.4</text>
<text x="149" y="1340.4" font-size="43" text-anchor="end">0.6</text>
<text x="149" y="1183.4" font-size="43" text-anchor="end">0.8</text>
<text x="149" y="1026.4" font-size="43" text-anchor="end">1.0</text>
<line x1="189" y1="1422.7" x2="294" y2="1422.7" stroke="#505050" stroke-width="4.6"/>
<rect x="232.5" y="1414.2" width="17" height="17" fill="#505050"/>
<text x="304" y="1438.1" font-size="44.5" text-anchor="start">Bi<tspan font-size="29.4" dy="12.9">4</tspan><tspan dy="-12.9">O</tspan><tspan font-size="29.4" dy="12.9">5</tspan><tspan dy="-12.9">Br</tspan><tspan font-size="29.4" dy="12.9">2</tspan></text>
<line x1="189" y1="1487.8" x2="294" y2="1487.8" stroke="#37AD6B" stroke-width="4.6"/>
<circle cx="241" cy="1487.8" r="9.2" fill="#37AD6B"/>
<text x="304" y="1503.1" font-size="44.5" text-anchor="start">1% Fe-Bi<tspan font-size="29.4" dy="12.9">4</tspan><tspan dy="-12.9">O</tspan><tspan font-size="29.4" dy="12.9">5</tspan><tspan dy="-12.9">Br</tspan><tspan font-size="29.4" dy="12.9">2</tspan></text>
<line x1="189" y1="1552.8" x2="294" y2="1552.8" stroke="#1A6FDF" stroke-width="4.6"/>
<polygon points="241,1542.6 231.2,1560.5 250.8,1560.5" fill="#1A6FDF"/>
<text x="304" y="1568.2" font-size="44.5" text-anchor="start">3% Fe-Bi<tspan font-size="29.4" dy="12.9">4</tspan><tspan dy="-12.9">O</tspan><tspan font-size="29.4" dy="12.9">5</tspan><tspan dy="-12.9">Br</tspan><tspan font-size="29.4" dy="12.9">2</tspan></text>
<line x1="189" y1="1617.9" x2="294" y2="1617.9" stroke="#F14040" stroke-width="4.6"/>
<polygon points="241,1628.1 231.2,1610.2 250.8,1610.2" fill="#F14040"/>
<text x="304" y="1633.2" font-size="44.5" text-anchor="start">5% Fe-Bi<tspan font-size="29.4" dy="12.9">4</tspan><tspan dy="-12.9">O</tspan><tspan font-size="29.4" dy="12.9">5</tspan><tspan dy="-12.9">Br</tspan><tspan font-size="29.4" dy="12.9">2</tspan></text>
<line x1="189" y1="1682.9" x2="294" y2="1682.9" stroke="#B177DE" stroke-width="4.6"/>
<polygon points="241,1671.4 250.8,1682.9 241,1694.5 231.2,1682.9" fill="#B177DE"/>
<text x="304" y="1698.3" font-size="44.5" text-anchor="start">7% Fe-Bi<tspan font-size="29.4" dy="12.9">4</tspan><tspan dy="-12.9">O</tspan><tspan font-size="29.4" dy="12.9">5</tspan><tspan dy="-12.9">Br</tspan><tspan font-size="29.4" dy="12.9">2</tspan></text>
<line x1="189" y1="1748" x2="294" y2="1748" stroke="#CC9900" stroke-width="4.6"/>
<polygon points="230.8,1748 248.7,1738.2 248.7,1757.8" fill="#CC9900"/>
<text x="304" y="1763.4" font-size="44.5" text-anchor="start">H<tspan font-size="29.4" dy="12.9">2</tspan><tspan dy="-12.9">O</tspan><tspan font-size="29.4" dy="12.9">2</tspan></text>
<text x="664.7" y="1929.7" font-size="58.4" text-anchor="middle">Time (min)</text>
<text transform="translate(60,1402) rotate(-90)" x="0" y="0" font-size="58" text-anchor="middle">C/C<tspan font-size="41.8" dy="16.8">0</tspan></text>
<text x="30" y="1062" font-size="82.5" text-anchor="start">c</text>
<line x1="420.8" y1="1012" x2="420.8" y2="1040" stroke="#000" stroke-width="5"/>
<line x1="420.8" y1="1067" x2="420.8" y2="1095" stroke="#000" stroke-width="5"/>
<line x1="420.8" y1="1122" x2="420.8" y2="1150" stroke="#000" stroke-width="5"/>
<line x1="420.8" y1="1177" x2="420.8" y2="1182.5" stroke="#000" stroke-width="5"/>
<polygon points="410.2,1182.5 431.2,1182.5 420.8,1215.5" fill="#000"/>
<text x="422" y="1269.4" font-size="43.5" text-anchor="middle" textLength="157" lengthAdjust="spacing">Light on</text>
<rect x="1418.2" y="1757.4" width="17.5" height="17.5" fill="#505050"/>
<rect x="1552.4" y="1721" width="17.5" height="17.5" fill="#505050"/>
<rect x="1686.6" y="1696" width="17.5" height="17.5" fill="#505050"/>
<rect x="1820.8" y="1662.6" width="17.5" height="17.5" fill="#505050"/>
<rect x="1954.9" y="1631.4" width="17.5" height="17.5" fill="#505050"/>
<rect x="2089.1" y="1600.1" width="17.5" height="17.5" fill="#505050"/>
<rect x="2223.3" y="1571.9" width="17.5" height="17.5" fill="#505050"/>
<circle cx="1427" cy="1766.2" r="9.5" fill="#37AD6B"/>
<circle cx="1561.1" cy="1720.4" r="9.5" fill="#37AD6B"/>
<circle cx="1695.3" cy="1669" r="9.5" fill="#37AD6B"/>
<circle cx="1829.5" cy="1604.4" r="9.5" fill="#37AD6B"/>
<circle cx="1963.7" cy="1538.6" r="9.5" fill="#37AD6B"/>
<circle cx="2097.9" cy="1447.9" r="9.5" fill="#37AD6B"/>
<circle cx="2232" cy="1335.1" r="9.5" fill="#37AD6B"/>
<polygon points="1427,1755.7 1416.9,1774.1 1437,1774.1" fill="#1A6FDF"/>
<polygon points="1561.1,1708.6 1551.1,1727 1571.2,1727" fill="#1A6FDF"/>
<polygon points="1695.3,1659.6 1685.3,1678 1705.4,1678" fill="#1A6FDF"/>
<polygon points="1829.5,1591.9 1819.4,1610.3 1839.6,1610.3" fill="#1A6FDF"/>
<polygon points="1963.7,1520.7 1953.6,1539 1973.7,1539" fill="#1A6FDF"/>
<polygon points="2097.9,1410.4 2087.8,1428.8 2107.9,1428.8" fill="#1A6FDF"/>
<polygon points="2232,1243.2 2222,1261.6 2242.1,1261.6" fill="#1A6FDF"/>
<polygon points="1427,1776.7 1416.9,1758.3 1437,1758.3" fill="#F14040"/>
<polygon points="1561.1,1707.1 1551.1,1688.7 1571.2,1688.7" fill="#F14040"/>
<polygon points="1695.3,1642 1685.3,1623.7 1705.4,1623.7" fill="#F14040"/>
<polygon points="1829.5,1501 1819.4,1482.6 1839.6,1482.6" fill="#F14040"/>
<polygon points="1963.7,1351.8 1953.6,1333.4 1973.7,1333.4" fill="#F14040"/>
<polygon points="2097.9,1209.7 2087.8,1191.3 2107.9,1191.3" fill="#F14040"/>
<polygon points="2232,1059.4 2222,1041 2242.1,1041" fill="#F14040"/>
<polygon points="1427,1754.3 1437.1,1766.2 1427,1778.1 1416.8,1766.2" fill="#B177DE"/>
<polygon points="1561.1,1714.7 1571.3,1726.6 1561.1,1738.5 1551,1726.6" fill="#B177DE"/>
<polygon points="1695.3,1677.2 1705.4,1689.1 1695.3,1701 1685.2,1689.1" fill="#B177DE"/>
<polygon points="1829.5,1619.6 1839.6,1631.5 1829.5,1643.4 1819.4,1631.5" fill="#B177DE"/>
<polygon points="1963.7,1550.7 1973.8,1562.6 1963.7,1574.5 1953.6,1562.6" fill="#B177DE"/>
<polygon points="2097.9,1463 2108,1474.9 2097.9,1486.8 2087.7,1474.9" fill="#B177DE"/>
<polygon points="2232,1384.6 2242.2,1396.5 2232,1408.4 2221.9,1396.5" fill="#B177DE"/>
<line x1="1427" y1="1766.2" x2="2232" y2="1580.6" stroke="#505050" stroke-width="4"/>
<line x1="1427" y1="1766.2" x2="2232" y2="1404" stroke="#37AD6B" stroke-width="4"/>
<line x1="1427" y1="1766.2" x2="2232" y2="1375.8" stroke="#1A6FDF" stroke-width="4"/>
<line x1="1427" y1="1766.2" x2="2232" y2="1161.7" stroke="#F14040" stroke-width="4"/>
<line x1="1427" y1="1766.2" x2="2232" y2="1449.6" stroke="#B177DE" stroke-width="4"/>
<rect x="1337.5" y="1017" width="984" height="792" fill="none" stroke="#000" stroke-width="4.2"/>
<line x1="1337.5" y1="1809" x2="1337.5" y2="1823.5" stroke="#000" stroke-width="4"/>
<line x1="1427" y1="1809" x2="1427" y2="1823.5" stroke="#000" stroke-width="4"/>
<line x1="1516.4" y1="1809" x2="1516.4" y2="1823.5" stroke="#000" stroke-width="4"/>
<line x1="1605.9" y1="1809" x2="1605.9" y2="1823.5" stroke="#000" stroke-width="4"/>
<line x1="1695.3" y1="1809" x2="1695.3" y2="1823.5" stroke="#000" stroke-width="4"/>
<line x1="1784.8" y1="1809" x2="1784.8" y2="1823.5" stroke="#000" stroke-width="4"/>
<line x1="1874.2" y1="1809" x2="1874.2" y2="1823.5" stroke="#000" stroke-width="4"/>
<line x1="1963.7" y1="1809" x2="1963.7" y2="1823.5" stroke="#000" stroke-width="4"/>
<line x1="2053.1" y1="1809" x2="2053.1" y2="1823.5" stroke="#000" stroke-width="4"/>
<line x1="2142.6" y1="1809" x2="2142.6" y2="1823.5" stroke="#000" stroke-width="4"/>
<line x1="2232" y1="1809" x2="2232" y2="1823.5" stroke="#000" stroke-width="4"/>
<line x1="2321.5" y1="1809" x2="2321.5" y2="1823.5" stroke="#000" stroke-width="4"/>
<line x1="1382.2" y1="1809" x2="1382.2" y2="1816.5" stroke="#000" stroke-width="4"/>
<line x1="1471.7" y1="1809" x2="1471.7" y2="1816.5" stroke="#000" stroke-width="4"/>
<line x1="1561.1" y1="1809" x2="1561.1" y2="1816.5" stroke="#000" stroke-width="4"/>
<line x1="1650.6" y1="1809" x2="1650.6" y2="1816.5" stroke="#000" stroke-width="4"/>
<line x1="1740" y1="1809" x2="1740" y2="1816.5" stroke="#000" stroke-width="4"/>
<line x1="1829.5" y1="1809" x2="1829.5" y2="1816.5" stroke="#000" stroke-width="4"/>
<line x1="1919" y1="1809" x2="1919" y2="1816.5" stroke="#000" stroke-width="4"/>
<line x1="2008.4" y1="1809" x2="2008.4" y2="1816.5" stroke="#000" stroke-width="4"/>
<line x1="2097.9" y1="1809" x2="2097.9" y2="1816.5" stroke="#000" stroke-width="4"/>
<line x1="2187.3" y1="1809" x2="2187.3" y2="1816.5" stroke="#000" stroke-width="4"/>
<line x1="2276.8" y1="1809" x2="2276.8" y2="1816.5" stroke="#000" stroke-width="4"/>
<text x="1337.5" y="1869" font-size="44.5" text-anchor="middle">-20</text>
<text x="1427" y="1869" font-size="44.5" text-anchor="middle">0</text>
<text x="1516.4" y="1869" font-size="44.5" text-anchor="middle">20</text>
<text x="1605.9" y="1869" font-size="44.5" text-anchor="middle">40</text>
<text x="1695.3" y="1869" font-size="44.5" text-anchor="middle">60</text>
<text x="1784.8" y="1869" font-size="44.5" text-anchor="middle">80</text>
<text x="1874.2" y="1869" font-size="44.5" text-anchor="middle">100</text>
<text x="1963.7" y="1869" font-size="44.5" text-anchor="middle">120</text>
<text x="2053.1" y="1869" font-size="44.5" text-anchor="middle">140</text>
<text x="2142.6" y="1869" font-size="44.5" text-anchor="middle">160</text>
<text x="2232" y="1869" font-size="44.5" text-anchor="middle">180</text>
<text x="2321.5" y="1869" font-size="44.5" text-anchor="middle">200</text>
<line x1="1322.5" y1="1766.2" x2="1337.5" y2="1766.2" stroke="#000" stroke-width="4"/>
<line x1="1322.5" y1="1659.2" x2="1337.5" y2="1659.2" stroke="#000" stroke-width="4"/>
<line x1="1322.5" y1="1552.1" x2="1337.5" y2="1552.1" stroke="#000" stroke-width="4"/>
<line x1="1322.5" y1="1445.1" x2="1337.5" y2="1445.1" stroke="#000" stroke-width="4"/>
<line x1="1322.5" y1="1338.1" x2="1337.5" y2="1338.1" stroke="#000" stroke-width="4"/>
<line x1="1322.5" y1="1231.1" x2="1337.5" y2="1231.1" stroke="#000" stroke-width="4"/>
<line x1="1322.5" y1="1124" x2="1337.5" y2="1124" stroke="#000" stroke-width="4"/>
<line x1="1322.5" y1="1017" x2="1337.5" y2="1017" stroke="#000" stroke-width="4"/>
<line x1="1329" y1="1712.7" x2="1337.5" y2="1712.7" stroke="#000" stroke-width="4"/>
<line x1="1329" y1="1605.6" x2="1337.5" y2="1605.6" stroke="#000" stroke-width="4"/>
<line x1="1329" y1="1498.6" x2="1337.5" y2="1498.6" stroke="#000" stroke-width="4"/>
<line x1="1329" y1="1391.6" x2="1337.5" y2="1391.6" stroke="#000" stroke-width="4"/>
<line x1="1329" y1="1284.6" x2="1337.5" y2="1284.6" stroke="#000" stroke-width="4"/>
<line x1="1329" y1="1177.5" x2="1337.5" y2="1177.5" stroke="#000" stroke-width="4"/>
<line x1="1329" y1="1070.5" x2="1337.5" y2="1070.5" stroke="#000" stroke-width="4"/>
<text x="1310" y="1781.1" font-size="44.5" text-anchor="end">0.0</text>
<text x="1310" y="1674.1" font-size="44.5" text-anchor="end">0.5</text>
<text x="1310" y="1567" font-size="44.5" text-anchor="end">1.0</text>
<text x="1310" y="1460" font-size="44.5" text-anchor="end">1.5</text>
<text x="1310" y="1353" font-size="44.5" text-anchor="end">2.0</text>
<text x="1310" y="1246" font-size="44.5" text-anchor="end">2.5</text>
<text x="1310" y="1138.9" font-size="44.5" text-anchor="end">3.0</text>
<text x="1310" y="1031.9" font-size="44.5" text-anchor="end">3.5</text>
<rect x="1374.2" y="1047.7" width="17.5" height="17.5" fill="#505050"/>
<text x="1435" y="1072.1" font-size="44.8" text-anchor="start">Bi<tspan font-size="29.6" dy="13">4</tspan><tspan dy="-13">O</tspan><tspan font-size="29.6" dy="13">5</tspan><tspan dy="-13">Br</tspan><tspan font-size="29.6" dy="13">2</tspan><tspan dy="-13"> k=0.005</tspan></text>
<circle cx="1383" cy="1121.9" r="9.5" fill="#37AD6B"/>
<text x="1435" y="1137.6" font-size="44.8" text-anchor="start">1% Fe-Bi<tspan font-size="29.6" dy="13">4</tspan><tspan dy="-13">O</tspan><tspan font-size="29.6" dy="13">5</tspan><tspan dy="-13">Br</tspan><tspan font-size="29.6" dy="13">2</tspan><tspan dy="-13"> k=0.009</tspan></text>
<polygon points="1383,1176.9 1372.9,1195.3 1393.1,1195.3" fill="#1A6FDF"/>
<text x="1435" y="1203.1" font-size="44.8" text-anchor="start">3% Fe-Bi<tspan font-size="29.6" dy="13">4</tspan><tspan dy="-13">O</tspan><tspan font-size="29.6" dy="13">5</tspan><tspan dy="-13">Br</tspan><tspan font-size="29.6" dy="13">2</tspan><tspan dy="-13"> k=0.010</tspan></text>
<polygon points="1383,1263.4 1372.9,1245 1393.1,1245" fill="#F14040"/>
<text x="1435" y="1268.6" font-size="44.8" text-anchor="start">5% Fe-Bi<tspan font-size="29.6" dy="13">4</tspan><tspan dy="-13">O</tspan><tspan font-size="29.6" dy="13">5</tspan><tspan dy="-13">Br</tspan><tspan font-size="29.6" dy="13">2</tspan><tspan dy="-13"> k=0.016</tspan></text>
<polygon points="1383,1306.5 1393.1,1318.4 1383,1330.3 1372.9,1318.4" fill="#B177DE"/>
<text x="1435" y="1334.1" font-size="44.8" text-anchor="start">7% Fe-Bi<tspan font-size="29.6" dy="13">4</tspan><tspan dy="-13">O</tspan><tspan font-size="29.6" dy="13">5</tspan><tspan dy="-13">Br</tspan><tspan font-size="29.6" dy="13">2</tspan><tspan dy="-13"> k=0.009</tspan></text>
<text x="1829" y="1932.5" font-size="58.5" text-anchor="middle">Time (min)</text>
<text transform="translate(1232,1412.7) rotate(-90)" x="0" y="0" font-size="58" text-anchor="middle">ln(C<tspan font-size="38.3" dy="16.8">0</tspan><tspan dy="-16.8">/C)</tspan></text>
<text x="1196" y="1091" font-size="84" text-anchor="start">d</text>
<clipPath id="clp3"><rect x="160.8" y="1997" width="986.2" height="793"/></clipPath>
<g clip-path="url(#clp3)">
<polyline points="160.8,1997 284.1,2047.8 407.4,2047.8 530.6,2081.9 653.9,2112.8 777.2,2142.1 900.5,2169.1 1023.7,2190.5 1147,2214.3" fill="none" stroke="#505050" stroke-width="4.6" stroke-linejoin="round"/>
<rect x="152.3" y="1988.5" width="17" height="17" fill="#505050"/>
<rect x="275.6" y="2039.3" width="17" height="17" fill="#505050"/>
<rect x="398.9" y="2039.3" width="17" height="17" fill="#505050"/>
<rect x="522.1" y="2073.4" width="17" height="17" fill="#505050"/>
<rect x="645.4" y="2104.3" width="17" height="17" fill="#505050"/>
<rect x="768.7" y="2133.6" width="17" height="17" fill="#505050"/>
<rect x="892" y="2160.6" width="17" height="17" fill="#505050"/>
<rect x="1015.2" y="2182" width="17" height="17" fill="#505050"/>
<rect x="1138.5" y="2205.8" width="17" height="17" fill="#505050"/>
<polyline points="160.8,1997 284.1,2043 407.4,2043 530.6,2093.7 653.9,2141.3 777.2,2199.2 900.5,2243.6 1023.7,2299.9 1147,2331.6" fill="none" stroke="#F14040" stroke-width="4.6" stroke-linejoin="round"/>
<circle cx="160.8" cy="1997" r="9.2" fill="#F14040"/>
<circle cx="284.1" cy="2043" r="9.2" fill="#F14040"/>
<circle cx="407.4" cy="2043" r="9.2" fill="#F14040"/>
<circle cx="530.6" cy="2093.7" r="9.2" fill="#F14040"/>
<circle cx="653.9" cy="2141.3" r="9.2" fill="#F14040"/>
<circle cx="777.2" cy="2199.2" r="9.2" fill="#F14040"/>
<circle cx="900.5" cy="2243.6" r="9.2" fill="#F14040"/>
<circle cx="1023.7" cy="2299.9" r="9.2" fill="#F14040"/>
<circle cx="1147" cy="2331.6" r="9.2" fill="#F14040"/>
<polyline points="160.8,1997 284.1,1997 407.4,1997 530.6,2076.3 653.9,2100.9 777.2,2111.2 900.5,2118.3 1023.7,2123.9 1147,2131" fill="none" stroke="#E6A823" stroke-width="4.6" stroke-linejoin="round"/>
<polygon points="160.8,1986.8 151,2004.7 170.6,2004.7" fill="#E6A823"/>
<polygon points="284.1,1986.8 274.3,2004.7 293.9,2004.7" fill="#E6A823"/>
<polygon points="407.4,1986.8 397.6,2004.7 417.1,2004.7" fill="#E6A823"/>
<polygon points="530.6,2066.1 520.9,2084 540.4,2084" fill="#E6A823"/>
<polygon points="653.9,2090.7 644.1,2108.5 663.7,2108.5" fill="#E6A823"/>
<polygon points="777.2,2101 767.4,2118.8 786.9,2118.8" fill="#E6A823"/>
<polygon points="900.5,2108.1 890.7,2126 910.2,2126" fill="#E6A823"/>
<polygon points="1023.7,2113.7 1014,2131.5 1033.5,2131.5" fill="#E6A823"/>
<polygon points="1147,2120.8 1137.2,2138.7 1156.8,2138.7" fill="#E6A823"/>
</g>
<rect x="160.8" y="1997" width="986.2" height="793" fill="none" stroke="#000" stroke-width="4.2"/>
<line x1="160.8" y1="2790" x2="160.8" y2="2804.5" stroke="#000" stroke-width="4"/>
<line x1="284.1" y1="2790" x2="284.1" y2="2804.5" stroke="#000" stroke-width="4"/>
<line x1="407.4" y1="2790" x2="407.4" y2="2804.5" stroke="#000" stroke-width="4"/>
<line x1="530.6" y1="2790" x2="530.6" y2="2804.5" stroke="#000" stroke-width="4"/>
<line x1="653.9" y1="2790" x2="653.9" y2="2804.5" stroke="#000" stroke-width="4"/>
<line x1="777.2" y1="2790" x2="777.2" y2="2804.5" stroke="#000" stroke-width="4"/>
<line x1="900.5" y1="2790" x2="900.5" y2="2804.5" stroke="#000" stroke-width="4"/>
<line x1="1023.7" y1="2790" x2="1023.7" y2="2804.5" stroke="#000" stroke-width="4"/>
<line x1="1147" y1="2790" x2="1147" y2="2804.5" stroke="#000" stroke-width="4"/>
<line x1="222.4" y1="2790" x2="222.4" y2="2797.5" stroke="#000" stroke-width="4"/>
<line x1="345.7" y1="2790" x2="345.7" y2="2797.5" stroke="#000" stroke-width="4"/>
<line x1="469" y1="2790" x2="469" y2="2797.5" stroke="#000" stroke-width="4"/>
<line x1="592.3" y1="2790" x2="592.3" y2="2797.5" stroke="#000" stroke-width="4"/>
<line x1="715.5" y1="2790" x2="715.5" y2="2797.5" stroke="#000" stroke-width="4"/>
<line x1="838.8" y1="2790" x2="838.8" y2="2797.5" stroke="#000" stroke-width="4"/>
<line x1="962.1" y1="2790" x2="962.1" y2="2797.5" stroke="#000" stroke-width="4"/>
<line x1="1085.4" y1="2790" x2="1085.4" y2="2797.5" stroke="#000" stroke-width="4"/>
<text x="160.8" y="2852" font-size="44.5" text-anchor="middle">-60</text>
<text x="284.1" y="2852" font-size="44.5" text-anchor="middle">-30</text>
<text x="407.4" y="2852" font-size="44.5" text-anchor="middle">0</text>
<text x="530.6" y="2852" font-size="44.5" text-anchor="middle">30</text>
<text x="653.9" y="2852" font-size="44.5" text-anchor="middle">60</text>
<text x="777.2" y="2852" font-size="44.5" text-anchor="middle">90</text>
<text x="900.5" y="2852" font-size="44.5" text-anchor="middle">120</text>
<text x="1023.7" y="2852" font-size="44.5" text-anchor="middle">150</text>
<text x="1147" y="2852" font-size="44.5" text-anchor="middle">180</text>
<line x1="145.8" y1="2790" x2="160.8" y2="2790" stroke="#000" stroke-width="4"/>
<line x1="145.8" y1="2631.4" x2="160.8" y2="2631.4" stroke="#000" stroke-width="4"/>
<line x1="145.8" y1="2472.8" x2="160.8" y2="2472.8" stroke="#000" stroke-width="4"/>
<line x1="145.8" y1="2314.2" x2="160.8" y2="2314.2" stroke="#000" stroke-width="4"/>
<line x1="145.8" y1="2155.6" x2="160.8" y2="2155.6" stroke="#000" stroke-width="4"/>
<line x1="145.8" y1="1997" x2="160.8" y2="1997" stroke="#000" stroke-width="4"/>
<line x1="152.3" y1="2710.7" x2="160.8" y2="2710.7" stroke="#000" stroke-width="4"/>
<line x1="152.3" y1="2552.1" x2="160.8" y2="2552.1" stroke="#000" stroke-width="4"/>
<line x1="152.3" y1="2393.5" x2="160.8" y2="2393.5" stroke="#000" stroke-width="4"/>
<line x1="152.3" y1="2234.9" x2="160.8" y2="2234.9" stroke="#000" stroke-width="4"/>
<line x1="152.3" y1="2076.3" x2="160.8" y2="2076.3" stroke="#000" stroke-width="4"/>
<text x="133" y="2804.9" font-size="44.5" text-anchor="end">0.0</text>
<text x="133" y="2646.3" font-size="44.5" text-anchor="end">0.2</text>
<text x="133" y="2487.7" font-size="44.5" text-anchor="end">0.4</text>
<text x="133" y="2329.1" font-size="44.5" text-anchor="end">0.6</text>
<text x="133" y="2170.5" font-size="44.5" text-anchor="end">0.8</text>
<text x="133" y="2011.9" font-size="44.5" text-anchor="end">1.0</text>
<line x1="184" y1="2586.5" x2="290" y2="2586.5" stroke="#505050" stroke-width="4.6"/>
<rect x="228.5" y="2578" width="17" height="17" fill="#505050"/>
<text x="300" y="2602" font-size="45" text-anchor="start">Bi<tspan font-size="29.7" dy="13">4</tspan><tspan dy="-13">O</tspan><tspan font-size="29.7" dy="13">5</tspan><tspan dy="-13">Br</tspan><tspan font-size="29.7" dy="13">2</tspan></text>
<line x1="184" y1="2652.6" x2="290" y2="2652.6" stroke="#F14040" stroke-width="4.6"/>
<circle cx="237" cy="2652.6" r="9.2" fill="#F14040"/>
<text x="300" y="2668.1" font-size="45" text-anchor="start">5% Fe-Bi<tspan font-size="29.7" dy="13">4</tspan><tspan dy="-13">O</tspan><tspan font-size="29.7" dy="13">5</tspan><tspan dy="-13">Br</tspan><tspan font-size="29.7" dy="13">2</tspan></text>
<line x1="184" y1="2718.7" x2="290" y2="2718.7" stroke="#E6A823" stroke-width="4.6"/>
<polygon points="237,2708.5 227.2,2726.3 246.8,2726.3" fill="#E6A823"/>
<text x="300" y="2734.2" font-size="45" text-anchor="start">H<tspan font-size="29.7" dy="13">2</tspan><tspan dy="-13">O</tspan><tspan font-size="29.7" dy="13">2</tspan></text>
<text x="654.7" y="2908" font-size="59" text-anchor="middle">Time (min)</text>
<text transform="translate(60,2400) rotate(-90)" x="0" y="0" font-size="58" text-anchor="middle">C/C<tspan font-size="41.8" dy="16.8">0</tspan></text>
<text x="38" y="2061.5" font-size="89" text-anchor="start">e</text>
<line x1="407.4" y1="1997" x2="407.4" y2="2025" stroke="#000" stroke-width="5"/>
<line x1="407.4" y1="2052" x2="407.4" y2="2080" stroke="#000" stroke-width="5"/>
<line x1="407.4" y1="2107" x2="407.4" y2="2135" stroke="#000" stroke-width="5"/>
<polygon points="396.9,2147.5 417.9,2147.5 407.4,2180.5" fill="#000"/>
<text x="434" y="2225.5" font-size="43" text-anchor="middle">Add H<tspan font-size="28.4" dy="12.5">2</tspan><tspan dy="-12.5">O</tspan><tspan font-size="28.4" dy="12.5">2</tspan></text>
<text x="1057" y="2060.3" font-size="44" text-anchor="middle">Dark</text>
<line x1="1560.1" y1="2008" x2="1560.1" y2="2760.5" stroke="#000" stroke-width="4"/>
<line x1="1746.7" y1="2008" x2="1746.7" y2="2760.5" stroke="#000" stroke-width="4"/>
<line x1="1933.4" y1="2008" x2="1933.4" y2="2760.5" stroke="#000" stroke-width="4"/>
<line x1="2120" y1="2008" x2="2120" y2="2760.5" stroke="#000" stroke-width="4"/>
<clipPath id="clp4"><rect x="1373.5" y="2008" width="933.1" height="752.5"/></clipPath>
<g clip-path="url(#clp4)">
<polyline points="1373.5,2008 1396.8,2070.5 1420.2,2071.2 1443.5,2274.4 1466.8,2515.2 1490.1,2655.2 1513.5,2725.9 1536.8,2754.5 1560.1,2756" fill="none" stroke="#FF0000" stroke-width="5.2" stroke-linejoin="round"/>
<rect x="1366" y="2000.5" width="15" height="15" fill="#FF0000"/>
<rect x="1389.3" y="2063" width="15" height="15" fill="#FF0000"/>
<rect x="1412.7" y="2063.7" width="15" height="15" fill="#FF0000"/>
<rect x="1436" y="2266.9" width="15" height="15" fill="#FF0000"/>
<rect x="1459.3" y="2507.7" width="15" height="15" fill="#FF0000"/>
<rect x="1482.6" y="2647.7" width="15" height="15" fill="#FF0000"/>
<rect x="1506" y="2718.4" width="15" height="15" fill="#FF0000"/>
<rect x="1529.3" y="2747" width="15" height="15" fill="#FF0000"/>
<rect x="1552.6" y="2748.5" width="15" height="15" fill="#FF0000"/>
<polyline points="1560.1,2008 1583.4,2067.4 1606.8,2063.7 1630.1,2166 1653.4,2321 1676.8,2465.5 1700.1,2601 1723.4,2692 1746.7,2730.4" fill="none" stroke="#1A6FDF" stroke-width="5.2" stroke-linejoin="round"/>
<circle cx="1560.1" cy="2008" r="8.1" fill="#1A6FDF"/>
<circle cx="1583.4" cy="2067.4" r="8.1" fill="#1A6FDF"/>
<circle cx="1606.8" cy="2063.7" r="8.1" fill="#1A6FDF"/>
<circle cx="1630.1" cy="2166" r="8.1" fill="#1A6FDF"/>
<circle cx="1653.4" cy="2321" r="8.1" fill="#1A6FDF"/>
<circle cx="1676.8" cy="2465.5" r="8.1" fill="#1A6FDF"/>
<circle cx="1700.1" cy="2601" r="8.1" fill="#1A6FDF"/>
<circle cx="1723.4" cy="2692" r="8.1" fill="#1A6FDF"/>
<circle cx="1746.7" cy="2730.4" r="8.1" fill="#1A6FDF"/>
<polyline points="1746.7,2008 1770.1,2059.9 1793.4,2063.7 1816.7,2167.5 1840,2407.6 1863.4,2592.7 1886.7,2672.5 1910,2692.8 1933.4,2702.6" fill="none" stroke="#37AD6B" stroke-width="5.2" stroke-linejoin="round"/>
<polygon points="1746.7,1999 1738.1,2014.8 1755.4,2014.8" fill="#37AD6B"/>
<polygon points="1770.1,2050.9 1761.4,2066.7 1778.7,2066.7" fill="#37AD6B"/>
<polygon points="1793.4,2054.7 1784.8,2070.4 1802,2070.4" fill="#37AD6B"/>
<polygon points="1816.7,2158.5 1808.1,2174.3 1825.3,2174.3" fill="#37AD6B"/>
<polygon points="1840,2398.6 1831.4,2414.3 1848.7,2414.3" fill="#37AD6B"/>
<polygon points="1863.4,2583.7 1854.8,2599.4 1872,2599.4" fill="#37AD6B"/>
<polygon points="1886.7,2663.5 1878.1,2679.2 1895.3,2679.2" fill="#37AD6B"/>
<polygon points="1910,2683.8 1901.4,2699.5 1918.7,2699.5" fill="#37AD6B"/>
<polygon points="1933.4,2693.6 1924.7,2709.3 1942,2709.3" fill="#37AD6B"/>
<polyline points="1933.4,2008 1956.7,2066.7 1980,2066.7 2003.3,2213.4 2026.7,2366.9 2050,2486.6 2073.3,2588.2 2096.7,2638.6 2120,2668.7" fill="none" stroke="#B177DE" stroke-width="5.2" stroke-linejoin="round"/>
<polygon points="1933.4,2017 1924.7,2001.2 1942,2001.2" fill="#B177DE"/>
<polygon points="1956.7,2075.7 1948.1,2059.9 1965.3,2059.9" fill="#B177DE"/>
<polygon points="1980,2075.7 1971.4,2059.9 1988.6,2059.9" fill="#B177DE"/>
<polygon points="2003.3,2222.4 1994.7,2206.7 2012,2206.7" fill="#B177DE"/>
<polygon points="2026.7,2375.9 2018,2360.2 2035.3,2360.2" fill="#B177DE"/>
<polygon points="2050,2495.6 2041.4,2479.8 2058.6,2479.8" fill="#B177DE"/>
<polygon points="2073.3,2597.2 2064.7,2581.4 2081.9,2581.4" fill="#B177DE"/>
<polygon points="2096.7,2647.6 2088,2631.8 2105.3,2631.8" fill="#B177DE"/>
<polygon points="2120,2677.7 2111.4,2661.9 2128.6,2661.9" fill="#B177DE"/>
<polyline points="2120,2008 2143.3,2072 2166.6,2067.4 2190,2216.4 2213.3,2355.7 2236.6,2474.6 2259.9,2577.6 2283.3,2607.7 2306.6,2619.8" fill="none" stroke="#EBC468" stroke-width="5.2" stroke-linejoin="round"/>
<polygon points="2120,1997.8 2128.7,2008 2120,2018.2 2111.3,2008" fill="#EBC468"/>
<polygon points="2143.3,2061.8 2152,2072 2143.3,2082.2 2134.6,2072" fill="#EBC468"/>
<polygon points="2166.6,2057.2 2175.3,2067.4 2166.6,2077.6 2158,2067.4" fill="#EBC468"/>
<polygon points="2190,2206.2 2198.6,2216.4 2190,2226.6 2181.3,2216.4" fill="#EBC468"/>
<polygon points="2213.3,2345.5 2222,2355.7 2213.3,2365.9 2204.6,2355.7" fill="#EBC468"/>
<polygon points="2236.6,2464.4 2245.3,2474.6 2236.6,2484.8 2227.9,2474.6" fill="#EBC468"/>
<polygon points="2259.9,2567.4 2268.6,2577.6 2259.9,2587.8 2251.3,2577.6" fill="#EBC468"/>
<polygon points="2283.3,2597.5 2291.9,2607.7 2283.3,2617.9 2274.6,2607.7" fill="#EBC468"/>
<polygon points="2306.6,2609.6 2315.3,2619.8 2306.6,2630 2297.9,2619.8" fill="#EBC468"/>
</g>
<rect x="1373.5" y="2008" width="933.1" height="752.5" fill="none" stroke="#000" stroke-width="4.2"/>
<line x1="1373.5" y1="2760.5" x2="1373.5" y2="2775" stroke="#000" stroke-width="4"/>
<line x1="1529" y1="2760.5" x2="1529" y2="2775" stroke="#000" stroke-width="4"/>
<line x1="1684.5" y1="2760.5" x2="1684.5" y2="2775" stroke="#000" stroke-width="4"/>
<line x1="1840" y1="2760.5" x2="1840" y2="2775" stroke="#000" stroke-width="4"/>
<line x1="1995.6" y1="2760.5" x2="1995.6" y2="2775" stroke="#000" stroke-width="4"/>
<line x1="2151.1" y1="2760.5" x2="2151.1" y2="2775" stroke="#000" stroke-width="4"/>
<line x1="2306.6" y1="2760.5" x2="2306.6" y2="2775" stroke="#000" stroke-width="4"/>
<line x1="1451.3" y1="2760.5" x2="1451.3" y2="2768" stroke="#000" stroke-width="4"/>
<line x1="1606.8" y1="2760.5" x2="1606.8" y2="2768" stroke="#000" stroke-width="4"/>
<line x1="1762.3" y1="2760.5" x2="1762.3" y2="2768" stroke="#000" stroke-width="4"/>
<line x1="1917.8" y1="2760.5" x2="1917.8" y2="2768" stroke="#000" stroke-width="4"/>
<line x1="2073.3" y1="2760.5" x2="2073.3" y2="2768" stroke="#000" stroke-width="4"/>
<line x1="2228.8" y1="2760.5" x2="2228.8" y2="2768" stroke="#000" stroke-width="4"/>
<text x="1373.5" y="2825" font-size="48" text-anchor="middle">0</text>
<text x="1529" y="2825" font-size="48" text-anchor="middle">200</text>
<text x="1684.5" y="2825" font-size="48" text-anchor="middle">400</text>
<text x="1840" y="2825" font-size="48" text-anchor="middle">600</text>
<text x="1995.6" y="2825" font-size="48" text-anchor="middle">800</text>
<text x="2151.1" y="2825" font-size="48" text-anchor="middle">1000</text>
<text x="2306.6" y="2825" font-size="48" text-anchor="middle">1200</text>
<line x1="1358.5" y1="2760.5" x2="1373.5" y2="2760.5" stroke="#000" stroke-width="4"/>
<line x1="1358.5" y1="2610" x2="1373.5" y2="2610" stroke="#000" stroke-width="4"/>
<line x1="1358.5" y1="2459.5" x2="1373.5" y2="2459.5" stroke="#000" stroke-width="4"/>
<line x1="1358.5" y1="2309" x2="1373.5" y2="2309" stroke="#000" stroke-width="4"/>
<line x1="1358.5" y1="2158.5" x2="1373.5" y2="2158.5" stroke="#000" stroke-width="4"/>
<line x1="1358.5" y1="2008" x2="1373.5" y2="2008" stroke="#000" stroke-width="4"/>
<line x1="1365" y1="2685.2" x2="1373.5" y2="2685.2" stroke="#000" stroke-width="4"/>
<line x1="1365" y1="2534.8" x2="1373.5" y2="2534.8" stroke="#000" stroke-width="4"/>
<line x1="1365" y1="2384.2" x2="1373.5" y2="2384.2" stroke="#000" stroke-width="4"/>
<line x1="1365" y1="2233.8" x2="1373.5" y2="2233.8" stroke="#000" stroke-width="4"/>
<line x1="1365" y1="2083.2" x2="1373.5" y2="2083.2" stroke="#000" stroke-width="4"/>
<text x="1344" y="2776.6" font-size="48" text-anchor="end">0.0</text>
<text x="1344" y="2626.1" font-size="48" text-anchor="end">0.2</text>
<text x="1344" y="2475.6" font-size="48" text-anchor="end">0.4</text>
<text x="1344" y="2325.1" font-size="48" text-anchor="end">0.6</text>
<text x="1344" y="2174.6" font-size="48" text-anchor="end">0.8</text>
<text x="1344" y="2024.1" font-size="48" text-anchor="end">1.0</text>
<text x="1548" y="2064" font-size="47" text-anchor="end">1st</text>
<text x="1733" y="2064" font-size="47" text-anchor="end">2nd</text>
<text x="1916" y="2064" font-size="47" text-anchor="end">3rd</text>
<text x="2107.5" y="2064" font-size="47" text-anchor="end">4th</text>
<text x="2292" y="2064" font-size="47" text-anchor="end">5th</text>
<text x="1841.6" y="2902" font-size="57" text-anchor="middle">Time (min)</text>
<text transform="translate(1253,2385) rotate(-90)" x="0" y="0" font-size="58" text-anchor="middle">C/C<tspan font-size="41.8" dy="16.8">0</tspan></text>
<text x="1212" y="2059.5" font-size="86" text-anchor="start">f</text>
<line x1="180" y1="3791.5" x2="180" y2="3777.7" stroke="#000" stroke-width="4.5"/>
<line x1="199" y1="3791.5" x2="199" y2="3784" stroke="#000" stroke-width="4.5"/>
<line x1="217" y1="3791.5" x2="217" y2="3784" stroke="#000" stroke-width="4.5"/>
<line x1="238.7" y1="3791.5" x2="238.7" y2="3787" stroke="#000" stroke-width="4.5"/>
<line x1="276.4" y1="3791.5" x2="276.4" y2="3787" stroke="#000" stroke-width="4.5"/>
<line x1="313.6" y1="3791.5" x2="313.6" y2="3778" stroke="#000" stroke-width="4.5"/>
<line x1="323.6" y1="3791.5" x2="323.6" y2="3784" stroke="#000" stroke-width="4.5"/>
<line x1="384.2" y1="3791.5" x2="384.2" y2="3778" stroke="#000" stroke-width="4.5"/>
<line x1="392.2" y1="3791.5" x2="392.2" y2="3784" stroke="#000" stroke-width="4.5"/>
<line x1="415.2" y1="3791.5" x2="415.2" y2="3784" stroke="#000" stroke-width="4.5"/>
<line x1="421.9" y1="3791.5" x2="421.9" y2="3787" stroke="#000" stroke-width="4.5"/>
<line x1="450" y1="3791.5" x2="450" y2="3786" stroke="#000" stroke-width="4.5"/>
<line x1="458.2" y1="3791.5" x2="458.2" y2="3569" stroke="#000" stroke-width="4.5"/>
<line x1="461.5" y1="3791.5" x2="461.5" y2="3680" stroke="#000" stroke-width="4.5"/>
<line x1="476.3" y1="3791.5" x2="476.3" y2="3778" stroke="#000" stroke-width="4.5"/>
<line x1="485.5" y1="3791.5" x2="485.5" y2="3690" stroke="#000" stroke-width="4.5"/>
<line x1="489" y1="3791.5" x2="489" y2="3690" stroke="#000" stroke-width="4.5"/>
<line x1="496.8" y1="3791.5" x2="496.8" y2="3783.3" stroke="#000" stroke-width="4.5"/>
<line x1="504" y1="3791.5" x2="504" y2="3783.3" stroke="#000" stroke-width="4.5"/>
<line x1="510" y1="3791.5" x2="510" y2="3783.3" stroke="#000" stroke-width="4.5"/>
<line x1="521" y1="3791.5" x2="521" y2="3786.4" stroke="#000" stroke-width="4.5"/>
<line x1="535" y1="3791.5" x2="535" y2="3786.4" stroke="#000" stroke-width="4.5"/>
<line x1="540" y1="3791.5" x2="540" y2="3786.4" stroke="#000" stroke-width="4.5"/>
<line x1="548.6" y1="3791.5" x2="548.6" y2="3783.3" stroke="#000" stroke-width="4.5"/>
<line x1="560" y1="3791.5" x2="560" y2="3786.4" stroke="#000" stroke-width="4.5"/>
<line x1="567" y1="3791.5" x2="567" y2="3786.4" stroke="#000" stroke-width="4.5"/>
<line x1="589.5" y1="3791.5" x2="589.5" y2="3783.3" stroke="#000" stroke-width="4.5"/>
<line x1="627.7" y1="3791.5" x2="627.7" y2="3786.4" stroke="#000" stroke-width="4.5"/>
<line x1="638" y1="3791.5" x2="638" y2="3787" stroke="#000" stroke-width="4.5"/>
<line x1="643" y1="3791.5" x2="643" y2="3787" stroke="#000" stroke-width="4.5"/>
<line x1="649.5" y1="3791.5" x2="649.5" y2="3786.4" stroke="#000" stroke-width="4.5"/>
<line x1="653" y1="3791.5" x2="653" y2="3778.2" stroke="#000" stroke-width="4.5"/>
<line x1="679" y1="3791.5" x2="679" y2="3756.4" stroke="#000" stroke-width="4.5"/>
<clipPath id="cg"><rect x="116" y="3021" width="1042.5" height="770.5"/></clipPath>
<g clip-path="url(#cg)">
<polyline points="116,3115.4 116.4,3120.7 116.8,3120.6 117.3,3117.5 117.7,3119.6 118.1,3119.7 118.5,3121.5 118.9,3122.9 119.3,3118.6 119.8,3118.5 120.2,3124.4 120.6,3122.1 121,3124.8 121.4,3120 121.8,3123.4 122.3,3125.7 122.7,3122.7 123.1,3128 123.5,3128.1 123.9,3122.6 124.3,3122.9 124.8,3126.8 125.2,3129.9 125.6,3126.5 126,3125.8 126.4,3127.6 126.8,3125.3 127.3,3127 127.7,3128.8 128.1,3129.6 128.5,3128.2 128.9,3128.5 129.3,3128.8 129.8,3130.8 130.2,3130 130.6,3128.5 131,3134.5 131.4,3132.9 131.8,3133.8 132.3,3131.1 132.7,3136.9 133.1,3136.4 133.5,3131.7 133.9,3133.5 134.3,3136.5 134.8,3136.7 135.2,3138.6 135.6,3135.5 136,3138.6 136.4,3137.8 136.9,3135.7 137.3,3137.9 137.7,3140.2 138.1,3140.3 138.5,3138.3 138.9,3139.2 139.4,3135.8 139.8,3137.5 140.2,3141.6 140.6,3139.3 141,3138 141.4,3140.9 141.9,3142.2 142.3,3142.3 142.7,3140.6 143.1,3141.4 143.5,3142.1 143.9,3144.3 144.4,3142.8 144.8,3142.3 145.2,3143.2 145.6,3140.4 146,3140.8 146.4,3145.5 146.9,3147.7 147.3,3145.4 147.7,3144.3 148.1,3143.1 148.5,3145.6 148.9,3149.2 149.4,3148 149.8,3146.7 150.2,3149.2 150.6,3145.2 151,3147.4 151.4,3150.6 151.9,3148.4 152.3,3147.8 152.7,3146.8 153.1,3149 153.5,3152 153.9,3145.8 154.4,3151.4 154.8,3151.9 155.2,3152.6 155.6,3151.9 156,3152.6 156.4,3150.9 156.9,3151.4 157.3,3150.8 157.7,3148.5 158.1,3154.3 158.5,3152.5 159,3150.2 159.4,3152.5 159.8,3152.7 160.2,3152 160.6,3152.2 161,3153.8 161.5,3154.6 161.9,3154.7 162.3,3153.9 162.7,3151.2 163.1,3152.8 163.5,3152.7 164,3155.7 164.4,3157.8 164.8,3157.6 165.2,3157.9 165.6,3158.2 166,3154.6 166.5,3158.8 166.9,3157.9 167.3,3154.1 167.7,3153.9 168.1,3154.1 168.5,3159.4 169,3156.2 169.4,3155.4 169.8,3159.1 170.2,3157.4 170.6,3155.8 171,3156.6 171.5,3159.3 171.9,3157.1 172.3,3158 172.7,3161.2 173.1,3159.7 173.5,3159 174,3160.2 174.4,3157.3 174.8,3160 175.2,3160.5 175.6,3159.1 176,3158.7 176.5,3164.3 176.9,3161.9 177.3,3160 177.7,3162.9 178.1,3164.5 178.5,3159.3 179,3159.5 179.4,3160.5 179.8,3164.6 180.2,3161 180.6,3164.9 181.1,3164.9 181.5,3164.2 181.9,3162.2 182.3,3167.5 182.7,3166.5 183.1,3164.7 183.6,3162.9 184,3166 184.4,3164.4 184.8,3165.8 185.2,3164.3 185.6,3166.6 186.1,3162.9 186.5,3164.7 186.9,3169.4 187.3,3168.9 187.7,3165.2 188.1,3169.2 188.6,3165.6 189,3170 189.4,3168.9 189.8,3166.8 190.2,3165.9 190.6,3164.4 191.1,3170.5 191.5,3164.9 191.9,3170.4 192.3,3171.5 192.7,3169 193.1,3166.4 193.6,3171.3 194,3172.2 194.4,3170.5 194.8,3169.4 195.2,3168.6 195.6,3168.6 196.1,3167.8 196.5,3171.1 196.9,3169.6 197.3,3168.1 197.7,3167.7 198.1,3171.7 198.6,3169.3 199,3170.8 199.4,3169.8 199.8,3173.6 200.2,3174 200.7,3168.1 201.1,3169.5 201.5,3170.5 201.9,3175.1 202.3,3173.9 202.7,3171 203.2,3170.3 203.6,3173.6 204,3174.8 204.4,3175.6 204.8,3171.7 205.2,3175.5 205.7,3174.3 206.1,3173.1 206.5,3176.6 206.9,3171.7 207.3,3175.1 207.7,3170.9 208.2,3171.6 208.6,3176.8 209,3172.2 209.4,3176 209.8,3175.1 210.2,3176.8 210.7,3173.7 211.1,3173.7 211.5,3173.5 211.9,3177.5 212.3,3175.8 212.7,3178.3 213.2,3178 213.6,3173 214,3176 214.4,3173 214.8,3172.7 215.2,3173.1 215.7,3178.6 216.1,3178.2 216.5,3178.6 216.9,3175.4 217.3,3177.3 217.7,3178.6 218.2,3176 218.6,3177.4 219,3175.1 219.4,3174.3 219.8,3175.7 220.2,3180 220.7,3177.9 221.1,3180.5 221.5,3177.4 221.9,3176.3 222.3,3179.9 222.8,3180.2 223.2,3174.8 223.6,3179.4 224,3175.6 224.4,3175.8 224.8,3181.2 225.3,3175.5 225.7,3177 226.1,3182.2 226.5,3178.4 226.9,3176.4 227.3,3176.9 227.8,3177.5 228.2,3181 228.6,3176.8 229,3182.3 229.4,3178.8 229.8,3182.9 230.3,3182.6 230.7,3178.5 231.1,3178.4 231.5,3180 231.9,3177.5 232.3,3181.4 232.8,3177.3 233.2,3177.2 233.6,3183.9 234,3179.3 234.4,3181.5 234.8,3180.5 235.3,3179.7 235.7,3178.1 236.1,3184 236.5,3184.4 236.9,3184.5 237.3,3178.8 237.8,3179.6 238.2,3182.4 238.6,3185 239,3182.1 239.4,3183.1 239.8,3183 240.3,3180.4 240.7,3182.4 241.1,3180.9 241.5,3180.6 241.9,3179.5 242.4,3181 242.8,3185.8 243.2,3182.3 243.6,3183.7 244,3183.8 244.4,3185.9 244.9,3182.2 245.3,3181.7 245.7,3181.9 246.1,3181.9 246.5,3185.6 246.9,3186 247.4,3182.1 247.8,3182.4 248.2,3183.9 248.6,3184.2 249,3184.4 249.4,3182.1 249.9,3180.6 250.3,3182.2 250.7,3181.1 251.1,3184.4 251.5,3181.2 251.9,3181.3 252.4,3185.2 252.8,3183 253.2,3186.4 253.6,3184.5 254,3187.1 254.4,3182.3 254.9,3184.7 255.3,3186.8 255.7,3182 256.1,3188 256.5,3182.8 256.9,3187 257.4,3188.4 257.8,3187.4 258.2,3184.1 258.6,3182.7 259,3185.5 259.4,3188.3 259.9,3184.1 260.3,3188.3 260.7,3183.2 261.1,3188.5 261.5,3182.6 261.9,3184.6 262.4,3188.7 262.8,3188.1 263.2,3188.8 263.6,3188.4 264,3187.9 264.5,3187.5 264.9,3184.1 265.3,3185.9 265.7,3184.1 266.1,3187.9 266.5,3187.7 267,3184.9 267.4,3183.7 267.8,3189.9 268.2,3188.9 268.6,3187.2 269,3187.2 269.5,3189.3 269.9,3186.7 270.3,3186.4 270.7,3186 271.1,3185.5 271.5,3184 272,3188.3 272.4,3186.8 272.8,3187.9 273.2,3184.5 273.6,3186.5 274,3185.1 274.5,3185.1 274.9,3186 275.3,3190 275.7,3187.1 276.1,3187.2 276.5,3188.7 277,3186.1 277.4,3184.6 277.8,3188.2 278.2,3188.1 278.6,3189.2 279,3187.8 279.5,3189.5 279.9,3189.9 280.3,3186.6 280.7,3188.4 281.1,3188.3 281.5,3186.6 282,3187.9 282.4,3189 282.8,3191.4 283.2,3191.5 283.6,3187.2 284.1,3189.8 284.5,3185.7 284.9,3186 285.3,3189 285.7,3191.5 286.1,3186.7 286.6,3190.9 287,3191.7 287.4,3187.9 287.8,3190.5 288.2,3191.6 288.6,3188.4 289.1,3190.7 289.5,3191 289.9,3190 290.3,3191.9 290.7,3192.2 291.1,3192.7 291.6,3190.1 292,3187.4 292.4,3188 292.8,3187.8 293.2,3190.2 293.6,3191.5 294.1,3186.8 294.5,3191.1 294.9,3191.4 295.3,3188.9 295.7,3190.1 296.1,3187.7 296.6,3191.6 297,3187 297.4,3193.4 297.8,3192.3 298.2,3191.1 298.6,3188.7 299.1,3193.1 299.5,3193.4 299.9,3187.9 300.3,3192.3 300.7,3192.8 301.1,3191.6 301.6,3191.9 302,3190.2 302.4,3193.5 302.8,3193.8 303.2,3189.9 303.6,3192.7 304.1,3190.3 304.5,3188.5 304.9,3189.6 305.3,3188.3 305.7,3193.6 306.2,3194 306.6,3188.3 307,3191.6 307.4,3190.4 307.8,3188.4 308.2,3189.7 308.7,3189.4 309.1,3192.8 309.5,3187.8 309.9,3189.1 310.3,3190.8 310.7,3188 311.2,3192.1 311.6,3192 312,3193.6 312.4,3189.4 312.8,3189.9 313.2,3191.7 313.7,3189.9 314.1,3192.1 314.5,3189.8 314.9,3192.8 315.3,3193.6 315.7,3193.7 316.2,3194.9 316.6,3192 317,3191.6 317.4,3194.1 317.8,3193.6 318.2,3192.3 318.7,3191 319.1,3190.4 319.5,3189.2 319.9,3194 320.3,3189.3 320.7,3193.6 321.2,3192.3 321.6,3195.1 322,3193.8 322.4,3195.3 322.8,3189.6 323.2,3192.1 323.7,3192.6 324.1,3190.9 324.5,3192.2 324.9,3191.2 325.3,3192.4 325.8,3188.8 326.2,3191.9 326.6,3191.9 327,3191 327.4,3191.6 327.8,3194.3 328.3,3193.6 328.7,3192.3 329.1,3193.4 329.5,3191.6 329.9,3190.4 330.3,3189.1 330.8,3191 331.2,3193.2 331.6,3195.1 332,3194.8 332.4,3192.7 332.8,3195.9 333.3,3192.4 333.7,3194.9 334.1,3192 334.5,3194.3 334.9,3196 335.3,3191.4 335.8,3190.5 336.2,3193.6 336.6,3193 337,3191.8 337.4,3189.4 337.8,3192.1 338.3,3192.3 338.7,3192.2 339.1,3195.3 339.5,3193.5 339.9,3194.5 340.3,3195.6 340.8,3194.6 341.2,3192.9 341.6,3194.6 342,3193.9 342.4,3194 342.8,3193.9 343.3,3192.4 343.7,3193.9 344.1,3194 344.5,3196 344.9,3195 345.4,3195.4 345.8,3194.9 346.2,3195.2 346.6,3193.8 347,3192.1 347.4,3191.5 347.9,3194.6 348.3,3195.7 348.7,3193.5 349.1,3190.8 349.5,3195.4 349.9,3193.1 350.4,3193 350.8,3190.1 351.2,3193.3 351.6,3194.9 352,3192.7 352.4,3192.2 352.9,3194.3 353.3,3190 353.7,3193.3 354.1,3196.3 354.5,3194.5 354.9,3192.6 355.4,3194.5 355.8,3194 356.2,3191.3 356.6,3191.3 357,3195.9 357.4,3191.7 357.9,3190.3 358.3,3195.5 358.7,3193.4 359.1,3192.3 359.5,3193.3 359.9,3194.8 360.4,3190.9 360.8,3194.2 361.2,3194.6 361.6,3195.3 362,3191.6 362.4,3193.9 362.9,3191.3 363.3,3193.5 363.7,3190.9 364.1,3195 364.5,3195.5 364.9,3191.9 365.4,3191.1 365.8,3196.1 366.2,3194.4 366.6,3195.3 367,3189.7 367.5,3195.6 367.9,3193.6 368.3,3191.5 368.7,3192.2 369.1,3194.4 369.5,3194.5 370,3190.4 370.4,3193.3 370.8,3190.1 371.2,3195.5 371.6,3191.9 372,3195 372.5,3193.6 372.9,3192.6 373.3,3190.2 373.7,3191.8 374.1,3189 374.5,3188.9 375,3192.6 375.4,3190 375.8,3192.4 376.2,3188.6 376.6,3191.6 377,3191.2 377.5,3188.1 377.9,3186.3 378.3,3187.8 378.7,3187.9 379.1,3184.7 379.5,3184.7 380,3183.1 380.4,3186.1 380.8,3187.2 381.2,3181.8 381.6,3179.7 382,3183.3 382.5,3183 382.9,3183 383.3,3179.5 383.7,3176.6 384.1,3178.9 384.5,3173 385,3176 385.4,3171.1 385.8,3172.4 386.2,3172.5 386.6,3171.4 387.1,3169.9 387.5,3170.4 387.9,3174.7 388.3,3172.8 388.7,3174.3 389.1,3172.7 389.6,3177 390,3175.4 390.4,3178.3 390.8,3181.5 391.2,3183.1 391.6,3177.7 392.1,3183.8 392.5,3185.1 392.9,3182.4 393.3,3183.6 393.7,3185.8 394.1,3188.8 394.6,3185.9 395,3189.8 395.4,3189.5 395.8,3185.9 396.2,3191.5 396.6,3185.8 397.1,3187.1 397.5,3190.9 397.9,3187.1 398.3,3189.5 398.7,3188.1 399.1,3190.5 399.6,3193.3 400,3193.9 400.4,3188.1 400.8,3188.4 401.2,3193.8 401.6,3188.5 402.1,3190.1 402.5,3189.2 402.9,3189 403.3,3188.7 403.7,3192.9 404.1,3193.6 404.6,3193.3 405,3194.4 405.4,3193.2 405.8,3191.3 406.2,3193 406.6,3195.3 407.1,3193.1 407.5,3190.4 407.9,3189.2 408.3,3195.1 408.7,3192.8 409.2,3191.1 409.6,3192.8 410,3192.5 410.4,3192.2 410.8,3189.1 411.2,3191 411.7,3191.4 412.1,3189.9 412.5,3194.5 412.9,3191.4 413.3,3193 413.7,3193.3 414.2,3193.5 414.6,3193.3 415,3193.4 415.4,3190 415.8,3194.9 416.2,3189.2 416.7,3194.3 417.1,3193.8 417.5,3193.8 417.9,3188.3 418.3,3188.4 418.7,3193.3 419.2,3190.9 419.6,3190.1 420,3194.2 420.4,3187.7 420.8,3190.9 421.2,3190.2 421.7,3188 422.1,3189.7 422.5,3191.7 422.9,3192.8 423.3,3186.8 423.7,3190.1 424.2,3187 424.6,3191.7 425,3186.7 425.4,3186.2 425.8,3188.4 426.2,3190.6 426.7,3187.6 427.1,3186.2 427.5,3190.5 427.9,3190.4 428.3,3190.5 428.8,3186.6 429.2,3187.2 429.6,3185.7 430,3187.6 430.4,3185.8 430.8,3185.6 431.3,3188.3 431.7,3189.2 432.1,3186.4 432.5,3182.8 432.9,3186.1 433.3,3184.4 433.8,3187.7 434.2,3185.4 434.6,3185.8 435,3184.4 435.4,3182.8 435.8,3184.7 436.3,3183.7 436.7,3179.4 437.1,3177.9 437.5,3178.6 437.9,3178.9 438.3,3175.2 438.8,3176 439.2,3176.7 439.6,3172 440,3176.2 440.4,3173.9 440.8,3170.3 441.3,3168.9 441.7,3167.8 442.1,3166 442.5,3167.2 442.9,3163.7 443.3,3161.9 443.8,3157.2 444.2,3160.1 444.6,3153.7 445,3151.1 445.4,3146.6 445.8,3149.9 446.3,3143.3 446.7,3143 447.1,3139.6 447.5,3136.2 447.9,3131.3 448.3,3128 448.8,3123.7 449.2,3118.5 449.6,3109.4 450,3107.4 450.4,3102.9 450.9,3100.9 451.3,3094.5 451.7,3089 452.1,3084.4 452.5,3076.9 452.9,3076.2 453.4,3069.7 453.8,3063.8 454.2,3060.5 454.6,3060.6 455,3054.8 455.4,3050.1 455.9,3048.4 456.3,3051.2 456.7,3050.2 457.1,3053.2 457.5,3049.5 457.9,3053 458.4,3057.8 458.8,3056.3 459.2,3060.2 459.6,3067.3 460,3069.7 460.4,3073.2 460.9,3079.1 461.3,3086.4 461.7,3090.6 462.1,3092.5 462.5,3097.4 462.9,3107.4 463.4,3110.7 463.8,3112.1 464.2,3121.2 464.6,3119.7 465,3126.1 465.4,3133.2 465.9,3136 466.3,3136.6 466.7,3144 467.1,3145.2 467.5,3149.9 467.9,3152.8 468.4,3152.2 468.8,3156.4 469.2,3157.7 469.6,3162.5 470,3163.5 470.5,3164.8 470.9,3167 471.3,3169.8 471.7,3166.2 472.1,3167.1 472.5,3172 473,3173.2 473.4,3172.5 473.8,3173.2 474.2,3173.4 474.6,3177.4 475,3177.5 475.5,3176.7 475.9,3173.5 476.3,3179.5 476.7,3177.2 477.1,3175.8 477.5,3176.8 478,3179.8 478.4,3175.3 478.8,3176.2 479.2,3177.6 479.6,3181.6 480,3180.7 480.5,3182.2 480.9,3179.1 481.3,3179.2 481.7,3178.8 482.1,3178.3 482.5,3178 483,3179.4 483.4,3179.8 483.8,3175.3 484.2,3176 484.6,3172.8 485,3171.5 485.5,3171.4 485.9,3170.2 486.3,3167.9 486.7,3168.4 487.1,3160.1 487.5,3160.1 488,3158.8 488.4,3152.8 488.8,3146.9 489.2,3140.2 489.6,3134.5 490,3131.7 490.5,3124.4 490.9,3115.5 491.3,3109.4 491.7,3101.8 492.1,3093.8 492.6,3083.8 493,3078.5 493.4,3076.4 493.8,3071.2 494.2,3073.5 494.6,3073.5 495.1,3076.5 495.5,3082.8 495.9,3087.3 496.3,3096.5 496.7,3104.8 497.1,3110 497.6,3118.8 498,3126.7 498.4,3137.6 498.8,3142.1 499.2,3145.8 499.6,3155.8 500.1,3155.4 500.5,3161.3 500.9,3166.4 501.3,3169.3 501.7,3170.3 502.1,3175 502.6,3175.1 503,3178.5 503.4,3178.5 503.8,3183.2 504.2,3182.6 504.6,3179.5 505.1,3180.6 505.5,3187.2 505.9,3182.9 506.3,3182.2 506.7,3184.3 507.1,3186.4 507.6,3190.1 508,3186.8 508.4,3189.5 508.8,3190.6 509.2,3185.9 509.6,3189.8 510.1,3192.7 510.5,3190 510.9,3190.2 511.3,3189.1 511.7,3193.5 512.2,3193.9 512.6,3188.2 513,3191.4 513.4,3190.7 513.8,3192.6 514.2,3189 514.7,3190.2 515.1,3190.5 515.5,3192 515.9,3194.2 516.3,3194.8 516.7,3194.5 517.2,3193.8 517.6,3189.9 518,3192.1 518.4,3194.1 518.8,3191.7 519.2,3193.2 519.7,3196 520.1,3190.7 520.5,3195.8 520.9,3190.8 521.3,3192.8 521.7,3196.4 522.2,3191.7 522.6,3194 523,3193.3 523.4,3196.6 523.8,3197.4 524.2,3192.6 524.7,3194.1 525.1,3196.9 525.5,3194.5 525.9,3192.3 526.3,3196.1 526.7,3193.3 527.2,3194.3 527.6,3191.1 528,3197.8 528.4,3195.6 528.8,3197.5 529.2,3197.8 529.7,3193.1 530.1,3195 530.5,3194.3 530.9,3196.5 531.3,3197.1 531.7,3193 532.2,3193.3 532.6,3196.3 533,3194.3 533.4,3192.4 533.8,3192.9 534.3,3195.4 534.7,3195.7 535.1,3198.1 535.5,3195.3 535.9,3195.8 536.3,3192.7 536.8,3194.5 537.2,3193.6 537.6,3196.4 538,3193.5 538.4,3193.2 538.8,3194.2 539.3,3194.9 539.7,3194.1 540.1,3195.9 540.5,3193 540.9,3197.7 541.3,3196.5 541.8,3195.4 542.2,3192.2 542.6,3194 543,3196.4 543.4,3196.1 543.8,3197.3 544.3,3197.8 544.7,3193.9 545.1,3195.1 545.5,3193.9 545.9,3192.5 546.3,3192.6 546.8,3193.4 547.2,3192.2 547.6,3195.3 548,3196.4 548.4,3195.4 548.8,3196.2 549.3,3193 549.7,3192.8 550.1,3195.3 550.5,3197.4 550.9,3194.2 551.3,3191.3 551.8,3191.4 552.2,3193.3 552.6,3195.3 553,3191.7 553.4,3192.6 553.9,3195.6 554.3,3197.6 554.7,3193.2 555.1,3194.9 555.5,3194.3 555.9,3190.8 556.4,3192.9 556.8,3191.5 557.2,3192.2 557.6,3195.6 558,3194.9 558.4,3190.5 558.9,3190.7 559.3,3195 559.7,3190.7 560.1,3192 560.5,3191.6 560.9,3190.1 561.4,3189.8 561.8,3190.5 562.2,3192.2 562.6,3195.7 563,3193.6 563.4,3190.8 563.9,3193.7 564.3,3190.9 564.7,3192.4 565.1,3191 565.5,3195.2 565.9,3191.1 566.4,3194.1 566.8,3192.9 567.2,3194.3 567.6,3192.6 568,3194.4 568.4,3191.2 568.9,3193 569.3,3192.6 569.7,3191.9 570.1,3192.2 570.5,3192 570.9,3191 571.4,3194.5 571.8,3192.7 572.2,3192.1 572.6,3188.8 573,3192 573.4,3189.7 573.9,3190.1 574.3,3191.6 574.7,3192.5 575.1,3190.5 575.5,3190.8 576,3192.6 576.4,3192.3 576.8,3191.9 577.2,3190 577.6,3191.9 578,3193.9 578.5,3193.3 578.9,3193.4 579.3,3195.5 579.7,3194.8 580.1,3194.6 580.5,3190.3 581,3192.3 581.4,3194.9 581.8,3191.4 582.2,3196.7 582.6,3191.5 583,3196.6 583.5,3192.2 583.9,3196.6 584.3,3196.7 584.7,3193.3 585.1,3197.1 585.5,3192.3 586,3197 586.4,3193.9 586.8,3194.4 587.2,3192.3 587.6,3195.6 588,3193.4 588.5,3196.2 588.9,3197.2 589.3,3195.9 589.7,3191.9 590.1,3198.4 590.5,3198.2 591,3196.4 591.4,3194.6 591.8,3195.9 592.2,3198.2 592.6,3195.3 593,3197.5 593.5,3196.4 593.9,3195.2 594.3,3198.7 594.7,3195.2 595.1,3196.6 595.6,3192.8 596,3195.7 596.4,3192.8 596.8,3197.3 597.2,3192.6 597.6,3192.9 598.1,3193.4 598.5,3193.6 598.9,3196.1 599.3,3195.1 599.7,3194.5 600.1,3199.4 600.6,3198.9 601,3197.2 601.4,3198.2 601.8,3198.4 602.2,3194.5 602.6,3198.3 603.1,3194.5 603.5,3196.7 603.9,3195.3 604.3,3193.9 604.7,3198.1 605.1,3199.1 605.6,3195 606,3198.9 606.4,3195.2 606.8,3197.4 607.2,3199.7 607.6,3198.1 608.1,3193.3 608.5,3195.8 608.9,3195.4 609.3,3194.9 609.7,3198.4 610.1,3195.9 610.6,3197.6 611,3197.2 611.4,3196.4 611.8,3193.3 612.2,3197.4 612.6,3198.9 613.1,3194 613.5,3197.2 613.9,3196.2 614.3,3195.1 614.7,3197.6 615.1,3199.4 615.6,3192.9 616,3198.9 616.4,3195.4 616.8,3198.4 617.2,3193.9 617.7,3197.6 618.1,3193.4 618.5,3195 618.9,3199.3 619.3,3197.1 619.7,3198 620.2,3195.7 620.6,3195.8 621,3195.9 621.4,3197.8 621.8,3197.4 622.2,3193.8 622.7,3195.4 623.1,3196.1 623.5,3196.3 623.9,3198.6 624.3,3198 624.7,3193.3 625.2,3194.7 625.6,3192.9 626,3192.3 626.4,3192.5 626.8,3193.2 627.2,3197.1 627.7,3196.4 628.1,3197.2 628.5,3193.6 628.9,3192.6 629.3,3198.1 629.7,3197 630.2,3197.7 630.6,3191.2 631,3193.7 631.4,3195.2 631.8,3195.7 632.2,3196.7 632.7,3194 633.1,3192.8 633.5,3190 633.9,3195.2 634.3,3196.2 634.7,3195.4 635.2,3193.5 635.6,3191 636,3190 636.4,3193.4 636.8,3194.1 637.3,3193.9 637.7,3188.2 638.1,3190.6 638.5,3189.7 638.9,3188.7 639.3,3190.8 639.8,3191.3 640.2,3189.4 640.6,3188.8 641,3188.2 641.4,3187.5 641.8,3186.2 642.3,3183.7 642.7,3186.9 643.1,3181.9 643.5,3185 643.9,3182.9 644.3,3183.6 644.8,3183.8 645.2,3182.4 645.6,3185.6 646,3180.4 646.4,3178.7 646.8,3185 647.3,3180.7 647.7,3180.5 648.1,3181.6 648.5,3183 648.9,3185.9 649.3,3184.3 649.8,3182 650.2,3183.9 650.6,3183.7 651,3184.6 651.4,3184.4 651.8,3183.2 652.3,3185.2 652.7,3185.7 653.1,3184.9 653.5,3189.5 653.9,3186.9 654.3,3185.9 654.8,3189.2 655.2,3191.5 655.6,3191.4 656,3190.7 656.4,3191.8 656.8,3189.5 657.3,3188.5 657.7,3189.6 658.1,3190.5 658.5,3190.3 658.9,3191.8 659.4,3189.9 659.8,3190 660.2,3191 660.6,3190.9 661,3195.1 661.4,3193.5 661.9,3191.3 662.3,3193.1 662.7,3196.2 663.1,3194.3 663.5,3194.2 663.9,3193.2 664.4,3192 664.8,3194.9 665.2,3191.3 665.6,3196.1 666,3191.2 666.4,3195.9 666.9,3193.5 667.3,3195.6 667.7,3194.9 668.1,3191.8 668.5,3194.6 668.9,3191.4 669.4,3192.5 669.8,3193.4 670.2,3192.8 670.6,3195.3 671,3197.4 671.4,3193.1 671.9,3196.3 672.3,3192 672.7,3195.2 673.1,3192.7 673.5,3193.8 673.9,3190.7 674.4,3195.5 674.8,3191.2 675.2,3192.7 675.6,3191.3 676,3194.6 676.4,3192.8 676.9,3192.7 677.3,3193.3 677.7,3189.4 678.1,3187.6 678.5,3192.3 679,3188.1 679.4,3190.8 679.8,3190.9 680.2,3187.6 680.6,3182.9 681,3186.6 681.5,3183.6 681.9,3179.3 682.3,3177.1 682.7,3177 683.1,3172 683.5,3174.8 684,3170.8 684.4,3168.8 684.8,3162.9 685.2,3163.8 685.6,3155.8 686,3157.5 686.5,3152.5 686.9,3149.7 687.3,3150.1 687.7,3151 688.1,3156 688.5,3155.2 689,3158.2 689.4,3161.7 689.8,3162.2 690.2,3167.6 690.6,3170.6 691,3175 691.5,3174.7 691.9,3179.4 692.3,3182.3 692.7,3182.9 693.1,3182.3 693.5,3182.8 694,3182.9 694.4,3189.1 694.8,3185.4 695.2,3189.2 695.6,3189.2 696,3187.1 696.5,3188.8 696.9,3193.5 697.3,3192 697.7,3195 698.1,3195.2 698.5,3189.9 699,3194.2 699.4,3190.1 699.8,3192.9 700.2,3193.2 700.6,3196.8 701.1,3194.5 701.5,3191.9 701.9,3194.2 702.3,3194.4 702.7,3192.3 703.1,3193.5 703.6,3197.1 704,3197.9 704.4,3196.6 704.8,3191.8 705.2,3197.6 705.6,3194.6 706.1,3197.2 706.5,3192.8 706.9,3192.6 707.3,3197.8 707.7,3193.6 708.1,3192 708.6,3195.1 709,3198.5 709.4,3197.5 709.8,3194.5 710.2,3198.6 710.6,3197.3 711.1,3197.6 711.5,3196.2 711.9,3194.5 712.3,3198 712.7,3195.1 713.1,3198.2 713.6,3195.6 714,3198 714.4,3195.1 714.8,3194.7 715.2,3195.8 715.6,3194 716.1,3192.8 716.5,3195.8 716.9,3197.5 717.3,3193.6 717.7,3197.6 718.1,3197 718.6,3196.9 719,3194.4 719.4,3198.4 719.8,3196.9 720.2,3195.4 720.7,3192.2 721.1,3195.3 721.5,3191.5 721.9,3197.5 722.3,3193.5 722.7,3193.7 723.2,3194.9 723.6,3195.4 724,3194.9 724.4,3194.2 724.8,3195.1 725.2,3196.5 725.7,3193.7 726.1,3193.9 726.5,3195.9 726.9,3190.3 727.3,3191.3 727.7,3192.2 728.2,3191.4 728.6,3195.8 729,3190.6 729.4,3190.2 729.8,3191.4 730.2,3192.5 730.7,3194.4 731.1,3195.4 731.5,3194.2 731.9,3192.3 732.3,3188.2 732.7,3188.1 733.2,3191.7 733.6,3192.6 734,3188.6 734.4,3193 734.8,3189.8 735.2,3189.6 735.7,3189.6 736.1,3185.5 736.5,3185.7 736.9,3190.5 737.3,3185.5 737.7,3183.8 738.2,3184.7 738.6,3187.2 739,3183.6 739.4,3182.7 739.8,3182.7 740.2,3183.5 740.7,3184.7 741.1,3181.2 741.5,3184.5 741.9,3184.7 742.3,3183.1 742.8,3177.5 743.2,3178.6 743.6,3182.2 744,3181.2 744.4,3175.8 744.8,3177.4 745.3,3176.5 745.7,3178.7 746.1,3173.4 746.5,3175.1 746.9,3177.8 747.3,3178.5 747.8,3172.6 748.2,3176.2 748.6,3176.7 749,3178.2 749.4,3175.2 749.8,3179.1 750.3,3174 750.7,3173.7 751.1,3174.1 751.5,3177.6 751.9,3174.8 752.3,3176.2 752.8,3176.2 753.2,3175.7 753.6,3182.4 754,3178.6 754.4,3183.4 754.8,3182.3 755.3,3179.4 755.7,3184.7 756.1,3178.9 756.5,3186.1 756.9,3180.1 757.3,3182.1 757.8,3184.6 758.2,3181.3 758.6,3186.9 759,3182.7 759.4,3188.1 759.8,3183.2 760.3,3186.9 760.7,3185.1 761.1,3185.9 761.5,3187.6 761.9,3187.1 762.4,3187.5 762.8,3189.5 763.2,3186.6 763.6,3186.7 764,3190.3 764.4,3187.9 764.9,3192.3 765.3,3189 765.7,3189.5 766.1,3186.5 766.5,3186.5 766.9,3187.1 767.4,3190.7 767.8,3191 768.2,3192.9 768.6,3189.3 769,3191.1 769.4,3188.6 769.9,3186.6 770.3,3188.9 770.7,3190.6 771.1,3191.2 771.5,3192 771.9,3191 772.4,3188.9 772.8,3188.6 773.2,3187.9 773.6,3187.5 774,3188.6 774.4,3187.5 774.9,3189.1 775.3,3186 775.7,3185.7 776.1,3187.8 776.5,3186.3 776.9,3184.9 777.4,3184.7 777.8,3186 778.2,3184.2 778.6,3181.4 779,3181.4 779.4,3183 779.9,3178.8 780.3,3181.3 780.7,3183.9 781.1,3179.2 781.5,3180.4 781.9,3181.9 782.4,3183.3 782.8,3181.7 783.2,3181.2 783.6,3179.6 784,3180 784.5,3181.5 784.9,3179.8 785.3,3182.9 785.7,3177.9 786.1,3183.3 786.5,3183.6 787,3181 787.4,3179.4 787.8,3182 788.2,3184.2 788.6,3185.9 789,3186.9 789.5,3182.8 789.9,3182.4 790.3,3183.1 790.7,3189.4 791.1,3187.4 791.5,3184.3 792,3188.5 792.4,3190.6 792.8,3188.6 793.2,3186.3 793.6,3191.6 794,3190.1 794.5,3186.8 794.9,3191 795.3,3189.4 795.7,3190.1 796.1,3188.9 796.5,3188.5 797,3189.5 797.4,3190.4 797.8,3190 798.2,3192.9 798.6,3187.5 799,3188.4 799.5,3193.5 799.9,3191.3 800.3,3191.3 800.7,3191.4 801.1,3188.7 801.5,3189.6 802,3188.3 802.4,3187.8 802.8,3193.3 803.2,3191.5 803.6,3192.2 804.1,3186 804.5,3190.5 804.9,3187.5 805.3,3188.5 805.7,3189.3 806.1,3184.5 806.6,3186.3 807,3187 807.4,3188.6 807.8,3185.5 808.2,3183.4 808.6,3184.5 809.1,3183.4 809.5,3180.4 809.9,3181 810.3,3178 810.7,3174.9 811.1,3175.5 811.6,3172.4 812,3173.5 812.4,3171.7 812.8,3172.3 813.2,3169.5 813.6,3167.4 814.1,3166.8 814.5,3159.5 814.9,3157.9 815.3,3154.5 815.7,3151.3 816.1,3151.7 816.6,3149.4 817,3144.7 817.4,3148.2 817.8,3146.9 818.2,3139.4 818.6,3138 819.1,3137.9 819.5,3142.4 819.9,3143.6 820.3,3139.1 820.7,3140 821.1,3145.1 821.6,3145.6 822,3145.6 822.4,3147.8 822.8,3151.5 823.2,3153.9 823.6,3156.9 824.1,3161.1 824.5,3161.4 824.9,3163.6 825.3,3165.6 825.7,3172.3 826.2,3169.9 826.6,3173.9 827,3175 827.4,3175.8 827.8,3177.9 828.2,3176.6 828.7,3179.1 829.1,3183.3 829.5,3185.3 829.9,3182.6 830.3,3183.2 830.7,3189 831.2,3184.3 831.6,3189.7 832,3190.9 832.4,3186.5 832.8,3191.7 833.2,3187.5 833.7,3187.2 834.1,3189.3 834.5,3190 834.9,3192 835.3,3191.3 835.7,3194 836.2,3193.4 836.6,3189.9 837,3190.7 837.4,3194.6 837.8,3190.5 838.2,3196.3 838.7,3195.5 839.1,3191.7 839.5,3192.3 839.9,3192.2 840.3,3193.5 840.7,3192.4 841.2,3191 841.6,3192.7 842,3192.4 842.4,3193.5 842.8,3194.3 843.2,3197.3 843.7,3195.9 844.1,3195.7 844.5,3197.5 844.9,3194.3 845.3,3194.6 845.8,3193.5 846.2,3197.5 846.6,3197.9 847,3198.2 847.4,3196.1 847.8,3192.9 848.3,3192.6 848.7,3197.6 849.1,3198.3 849.5,3195.9 849.9,3198.6 850.3,3198.7 850.8,3197.6 851.2,3195 851.6,3195.6 852,3194.9 852.4,3195.3 852.8,3195.8 853.3,3192.8 853.7,3193.5 854.1,3193.8 854.5,3196.6 854.9,3198.7 855.3,3197.6 855.8,3193.8 856.2,3195.9 856.6,3197.1 857,3193.8 857.4,3193.4 857.8,3197.1 858.3,3194.5 858.7,3197.3 859.1,3194.1 859.5,3198.8 859.9,3195.1 860.3,3195.9 860.8,3196.8 861.2,3199.1 861.6,3199.3 862,3198.8 862.4,3197.8 862.8,3193.6 863.3,3194.4 863.7,3196.8 864.1,3199.8 864.5,3198.1 864.9,3194.5 865.3,3195.6 865.8,3199.7 866.2,3196.6 866.6,3199.1 867,3199 867.4,3198.5 867.9,3197.5 868.3,3197.7 868.7,3195.5 869.1,3194 869.5,3199.7 869.9,3193.4 870.4,3195.1 870.8,3197.4 871.2,3199.8 871.6,3194.6 872,3194.9 872.4,3199 872.9,3195.4 873.3,3195.9 873.7,3195.6 874.1,3193.5 874.5,3199.6 874.9,3197.9 875.4,3193.2 875.8,3193.8 876.2,3194 876.6,3195.6 877,3199.1 877.4,3194 877.9,3194.6 878.3,3195.1 878.7,3196.4 879.1,3199 879.5,3196.5 879.9,3199 880.4,3196.5 880.8,3195.7 881.2,3198.6 881.6,3196.6 882,3195.8 882.4,3195.9 882.9,3194.8 883.3,3195.2 883.7,3192.7 884.1,3193.5 884.5,3197.1 884.9,3192.7 885.4,3193.1 885.8,3192.6 886.2,3193.8 886.6,3191.5 887,3193.4 887.5,3194.9 887.9,3195.1 888.3,3196.2 888.7,3190.6 889.1,3194.1 889.5,3190.8 890,3191.5 890.4,3192.8 890.8,3194.3 891.2,3192.9 891.6,3194.7 892,3187.8 892.5,3189.5 892.9,3190.4 893.3,3187.1 893.7,3187 894.1,3188.9 894.5,3190 895,3187 895.4,3186.5 895.8,3188.2 896.2,3191.1 896.6,3190 897,3193 897.5,3190.5 897.9,3192.7 898.3,3190.8 898.7,3190.4 899.1,3190.3 899.5,3188.2 900,3188.5 900.4,3192.9 900.8,3194.5 901.2,3189.1 901.6,3190.5 902,3191.8 902.5,3192 902.9,3195.8 903.3,3192.1 903.7,3192.7 904.1,3194.2 904.5,3197.6 905,3193.3 905.4,3195.8 905.8,3192 906.2,3194.8 906.6,3198.3 907,3193.6 907.5,3194.7 907.9,3196.8 908.3,3196.3 908.7,3196.5 909.1,3196.8 909.6,3197.4 910,3195.1 910.4,3195.3 910.8,3195.7 911.2,3196.6 911.6,3197 912.1,3199.1 912.5,3195.9 912.9,3196.3 913.3,3199 913.7,3199.9 914.1,3195 914.6,3198.4 915,3195.1 915.4,3198.5 915.8,3193.8 916.2,3197 916.6,3197.4 917.1,3198.3 917.5,3199.8 917.9,3199 918.3,3197.5 918.7,3197 919.1,3193.8 919.6,3197.4 920,3197.5 920.4,3198.8 920.8,3194.8 921.2,3197.7 921.6,3194.1 922.1,3198.7 922.5,3199.4 922.9,3196.8 923.3,3198.5 923.7,3198.3 924.1,3195.9 924.6,3194.4 925,3199 925.4,3196.3 925.8,3194.9 926.2,3196.9 926.6,3199.5 927.1,3200.4 927.5,3197.7 927.9,3200.5 928.3,3195.1 928.7,3197.2 929.2,3194 929.6,3195.5 930,3199.9 930.4,3194.3 930.8,3198.4 931.2,3197.4 931.7,3200.7 932.1,3200.7 932.5,3194.8 932.9,3195.7 933.3,3200.7 933.7,3196.2 934.2,3195.2 934.6,3200.2 935,3198.2 935.4,3196.1 935.8,3197.7 936.2,3196.9 936.7,3197.1 937.1,3197.7 937.5,3195.1 937.9,3198.2 938.3,3200.5 938.7,3198 939.2,3199.3 939.6,3195.9 940,3195 940.4,3194 940.8,3200.7 941.2,3194.8 941.7,3196.6 942.1,3198.4 942.5,3199 942.9,3198.2 943.3,3197 943.7,3199.5 944.2,3197 944.6,3199.7 945,3194.4 945.4,3198.9 945.8,3194.6 946.2,3196.6 946.7,3197 947.1,3195.2 947.5,3197 947.9,3199.8 948.3,3194.2 948.7,3195.3 949.2,3200.6 949.6,3197 950,3196.6 950.4,3200.2 950.8,3199.2 951.3,3195.1 951.7,3198 952.1,3195.2 952.5,3199.2 952.9,3197.7 953.3,3199.3 953.8,3194.3 954.2,3200.2 954.6,3195.5 955,3199.7 955.4,3196.9 955.8,3199.9 956.3,3194.5 956.7,3194.2 957.1,3197 957.5,3200.2 957.9,3197 958.3,3197.3 958.8,3194.9 959.2,3197.5 959.6,3196.7 960,3199.8 960.4,3198.8 960.8,3197 961.3,3194.7 961.7,3194.7 962.1,3200.2 962.5,3197.8 962.9,3195.1 963.3,3199.1 963.8,3195 964.2,3196.6 964.6,3199.4 965,3194.1 965.4,3194.1 965.8,3193.7 966.3,3194.3 966.7,3195.7 967.1,3195.3 967.5,3194.9 967.9,3193 968.3,3196.1 968.8,3195.8 969.2,3197.6 969.6,3194.5 970,3196.3 970.4,3194.3 970.9,3197.1 971.3,3192.9 971.7,3194.9 972.1,3194.3 972.5,3194.1 972.9,3194.4 973.4,3194.1 973.8,3192.2 974.2,3195.3 974.6,3195.8 975,3192.8 975.4,3192.9 975.9,3193.1 976.3,3190 976.7,3191.5 977.1,3190.3 977.5,3190.1 977.9,3189.2 978.4,3190 978.8,3187.7 979.2,3187.8 979.6,3187.6 980,3190.4 980.4,3188.2 980.9,3192.1 981.3,3193.3 981.7,3192.6 982.1,3190.1 982.5,3194.6 982.9,3190.9 983.4,3191.4 983.8,3193.4 984.2,3194.2 984.6,3192.9 985,3195.8 985.4,3196.5 985.9,3193 986.3,3192.8 986.7,3194.2 987.1,3196.5 987.5,3196.5 987.9,3193.3 988.4,3194.9 988.8,3198.6 989.2,3199.1 989.6,3196.8 990,3198.1 990.4,3198.6 990.9,3194.5 991.3,3193.5 991.7,3197.3 992.1,3195.8 992.5,3198.1 993,3195.3 993.4,3196.3 993.8,3198.9 994.2,3194.1 994.6,3196.3 995,3194.6 995.5,3197.2 995.9,3198.6 996.3,3200.3 996.7,3198.7 997.1,3194.6 997.5,3196.6 998,3197.4 998.4,3198 998.8,3198.5 999.2,3200.3 999.6,3200.1 1000,3195.2 1000.5,3194.8 1000.9,3200.4 1001.3,3194.9 1001.7,3200.4 1002.1,3194.6 1002.5,3197.8 1003,3194.7 1003.4,3194.7 1003.8,3196.1 1004.2,3199.2 1004.6,3198.6 1005,3196 1005.5,3194.8 1005.9,3196.3 1006.3,3195.1 1006.7,3195.5 1007.1,3197.3 1007.5,3197.2 1008,3200.2 1008.4,3194.5 1008.8,3197.5 1009.2,3197.7 1009.6,3194.9 1010,3196.3 1010.5,3194.8 1010.9,3200 1011.3,3196.3 1011.7,3194.3 1012.1,3197.1 1012.6,3197.5 1013,3199.9 1013.4,3198.8 1013.8,3195.3 1014.2,3200.1 1014.6,3193.9 1015.1,3198.6 1015.5,3194.2 1015.9,3199.5 1016.3,3195.2 1016.7,3199.3 1017.1,3199.4 1017.6,3199.1 1018,3194.6 1018.4,3196.6 1018.8,3194.6 1019.2,3198.8 1019.6,3200.6 1020.1,3197.4 1020.5,3198.3 1020.9,3198.4 1021.3,3194.8 1021.7,3196.4 1022.1,3196.2 1022.6,3199 1023,3196.6 1023.4,3196.3 1023.8,3197.6 1024.2,3195.2 1024.6,3194.3 1025.1,3195.4 1025.5,3194 1025.9,3198.4 1026.3,3196.9 1026.7,3198 1027.1,3197.7 1027.6,3194.2 1028,3199.3 1028.4,3199.4 1028.8,3193.8 1029.2,3196.7 1029.6,3199.1 1030.1,3196.6 1030.5,3199.6 1030.9,3198.5 1031.3,3198.2 1031.7,3199.9 1032.1,3199 1032.6,3197.7 1033,3194 1033.4,3196.8 1033.8,3198.4 1034.2,3197.2 1034.7,3197.6 1035.1,3196 1035.5,3199.4 1035.9,3195.3 1036.3,3198 1036.7,3196.6 1037.2,3194.6 1037.6,3193.7 1038,3194.5 1038.4,3195.5 1038.8,3196.8 1039.2,3193.7 1039.7,3194 1040.1,3198.9 1040.5,3200.2 1040.9,3196.4 1041.3,3196.6 1041.7,3197.5 1042.2,3194.1 1042.6,3197.1 1043,3198 1043.4,3199.8 1043.8,3197.7 1044.2,3197 1044.7,3196.1 1045.1,3199.5 1045.5,3196.8 1045.9,3196.5 1046.3,3198.2 1046.7,3196.2 1047.2,3193.6 1047.6,3197.2 1048,3199 1048.4,3195.6 1048.8,3193.7 1049.2,3193.8 1049.7,3199.2 1050.1,3193.7 1050.5,3197.4 1050.9,3193.5 1051.3,3196.4 1051.7,3199 1052.2,3194.4 1052.6,3194.9 1053,3196.9 1053.4,3196.6 1053.8,3196.5 1054.3,3195.3 1054.7,3192.8 1055.1,3196.6 1055.5,3194.4 1055.9,3196.7 1056.3,3195.4 1056.8,3194.2 1057.2,3199.1 1057.6,3194.4 1058,3198.8 1058.4,3195.4 1058.8,3195.7 1059.3,3193.9 1059.7,3193.2 1060.1,3196.7 1060.5,3194.9 1060.9,3195.8 1061.3,3193 1061.8,3195.1 1062.2,3196.1 1062.6,3196.7 1063,3196 1063.4,3194.2 1063.8,3196 1064.3,3195.3 1064.7,3194.4 1065.1,3195.4 1065.5,3193.1 1065.9,3191.4 1066.3,3191.9 1066.8,3197.4 1067.2,3196.8 1067.6,3196.2 1068,3192.3 1068.4,3196.1 1068.8,3195.7 1069.3,3193.9 1069.7,3192.2 1070.1,3190.8 1070.5,3196.7 1070.9,3196.7 1071.3,3195.6 1071.8,3192.7 1072.2,3194.5 1072.6,3195.7 1073,3193.1 1073.4,3190.1 1073.8,3195.8 1074.3,3192.7 1074.7,3194.2 1075.1,3193.1 1075.5,3189.2 1075.9,3191.8 1076.4,3188.6 1076.8,3190.2 1077.2,3194.9 1077.6,3192.9 1078,3192 1078.4,3188.8 1078.9,3192.6 1079.3,3192 1079.7,3192.1 1080.1,3192.3 1080.5,3193.9 1080.9,3190.5 1081.4,3191.5 1081.8,3190.9 1082.2,3191.2 1082.6,3191.8 1083,3188.3 1083.4,3187.4 1083.9,3187.7 1084.3,3187.1 1084.7,3190.6 1085.1,3188.8 1085.5,3192 1085.9,3187.8 1086.4,3187.6 1086.8,3192.5 1087.2,3187.2 1087.6,3188.9 1088,3191.2 1088.4,3190.3 1088.9,3188.3 1089.3,3187.4 1089.7,3190.4 1090.1,3188.2 1090.5,3192.4 1090.9,3188.4 1091.4,3192.9 1091.8,3186.8 1092.2,3190.8 1092.6,3188.6 1093,3190 1093.4,3189.8 1093.9,3192.4 1094.3,3188.2 1094.7,3192.2 1095.1,3187.3 1095.5,3191.5 1096,3192.8 1096.4,3190.3 1096.8,3193.2 1097.2,3189.9 1097.6,3190 1098,3193.9 1098.5,3194.5 1098.9,3193.3 1099.3,3189.5 1099.7,3194.5 1100.1,3190.7 1100.5,3194.2 1101,3190.6 1101.4,3190 1101.8,3190.4 1102.2,3193.4 1102.6,3195.5 1103,3192.5 1103.5,3189.7 1103.9,3193.8 1104.3,3195.3 1104.7,3194.6 1105.1,3189.4 1105.5,3191.7 1106,3194.9 1106.4,3194.5 1106.8,3196.6 1107.2,3196 1107.6,3195.4 1108,3194.8 1108.5,3192.8 1108.9,3190.5 1109.3,3195.6 1109.7,3193.6 1110.1,3196.5 1110.5,3191.6 1111,3196.6 1111.4,3195.2 1111.8,3196.9 1112.2,3195.8 1112.6,3194 1113,3194.7 1113.5,3191.9 1113.9,3193 1114.3,3195.3 1114.7,3192.7 1115.1,3194 1115.5,3196 1116,3195.7 1116.4,3197.8 1116.8,3194.7 1117.2,3195.6 1117.6,3194.8 1118.1,3197.1 1118.5,3196.3 1118.9,3198.5 1119.3,3193.1 1119.7,3193.1 1120.1,3194.2 1120.6,3196.5 1121,3196.7 1121.4,3193.8 1121.8,3194.3 1122.2,3196.6 1122.6,3194.4 1123.1,3198.2 1123.5,3193.4 1123.9,3198 1124.3,3193.8 1124.7,3197.6 1125.1,3198.1 1125.6,3199.3 1126,3199 1126.4,3193.1 1126.8,3197.4 1127.2,3199.2 1127.6,3198.3 1128.1,3196.1 1128.5,3198.2 1128.9,3195 1129.3,3198.6 1129.7,3195.9 1130.1,3199.8 1130.6,3193.4 1131,3197.2 1131.4,3194.2 1131.8,3198.5 1132.2,3199.9 1132.6,3196.7 1133.1,3199.1 1133.5,3195 1133.9,3193.6 1134.3,3198.9 1134.7,3196.2 1135.1,3194 1135.6,3198.1 1136,3199.6 1136.4,3194.1 1136.8,3197.7 1137.2,3195.9 1137.7,3193.9 1138.1,3194.1 1138.5,3193.9 1138.9,3195.7 1139.3,3195.7 1139.7,3197.3 1140.2,3197.9 1140.6,3199.5 1141,3199.5 1141.4,3194.9 1141.8,3198 1142.2,3199.7 1142.7,3195.5 1143.1,3197.9 1143.5,3200.5 1143.9,3198.1 1144.3,3198.6 1144.7,3195.9 1145.2,3200.6 1145.6,3199.5 1146,3196 1146.4,3195.9 1146.8,3193.9 1147.2,3197.1 1147.7,3199.8 1148.1,3199.2 1148.5,3194.9 1148.9,3195.5 1149.3,3195 1149.7,3195.7 1150.2,3195.3 1150.6,3195.1 1151,3197.7 1151.4,3200.2 1151.8,3199.8 1152.2,3198.2 1152.7,3196.1 1153.1,3200.2 1153.5,3195.4 1153.9,3194.3 1154.3,3195.5 1154.7,3199.4 1155.2,3198.8 1155.6,3196.1 1156,3195.5 1156.4,3198.4 1156.8,3197.5 1157.2,3199.4 1157.7,3197.1 1158.1,3194.6 1158.5,3194.5" fill="none" stroke="#FF0000" stroke-width="5.6" stroke-linejoin="round"/>
<polyline points="116,3448.5 116.4,3448.8 116.8,3443.2 117.3,3443.8 117.7,3449.4 118.1,3449.1 118.5,3449.1 118.9,3447 119.3,3449.5 119.8,3449.9 120.2,3450.1 120.6,3447.7 121,3449.9 121.4,3450.1 121.8,3452.7 122.3,3455 122.7,3455.1 123.1,3452.7 123.5,3452.4 123.9,3451.6 124.3,3450.4 124.8,3450.8 125.2,3454.1 125.6,3453.5 126,3454.3 126.4,3458.2 126.8,3456.1 127.3,3456.7 127.7,3454.8 128.1,3453.8 128.5,3456.2 128.9,3455.3 129.3,3458.2 129.8,3461.8 130.2,3460 130.6,3457 131,3462.2 131.4,3461.9 131.8,3461.8 132.3,3463.3 132.7,3462.7 133.1,3463.2 133.5,3460.6 133.9,3465.2 134.3,3465.4 134.8,3460.3 135.2,3464.7 135.6,3464.7 136,3463.3 136.4,3464.1 136.9,3464.2 137.3,3467.5 137.7,3464.9 138.1,3467.5 138.5,3464.5 138.9,3468.4 139.4,3468.9 139.8,3466.2 140.2,3467.2 140.6,3469.9 141,3468.9 141.4,3467.6 141.9,3466.1 142.3,3467.1 142.7,3469.9 143.1,3466.6 143.5,3471.9 143.9,3467.9 144.4,3472.5 144.8,3468.7 145.2,3473.4 145.6,3472 146,3470.9 146.4,3471.2 146.9,3472.4 147.3,3472.3 147.7,3470.6 148.1,3470.2 148.5,3472.5 148.9,3475.7 149.4,3473.8 149.8,3470.3 150.2,3475.6 150.6,3475.2 151,3476.7 151.4,3472.1 151.9,3476.1 152.3,3471.6 152.7,3475.9 153.1,3473.5 153.5,3473.4 153.9,3478.1 154.4,3473 154.8,3476.1 155.2,3478.5 155.6,3474.6 156,3474.5 156.4,3479.3 156.9,3476.3 157.3,3478.5 157.7,3474 158.1,3476.4 158.5,3475.3 159,3478.8 159.4,3474.9 159.8,3481 160.2,3474.8 160.6,3479.7 161,3475 161.5,3476.7 161.9,3480.5 162.3,3476.1 162.7,3476.4 163.1,3479.9 163.5,3477.9 164,3475.6 164.4,3482 164.8,3476.3 165.2,3475.6 165.6,3477.6 166,3479.5 166.5,3480.3 166.9,3476 167.3,3477.5 167.7,3475.3 168.1,3478.1 168.5,3480.2 169,3479.9 169.4,3480.9 169.8,3479.9 170.2,3480.5 170.6,3479.3 171,3477.6 171.5,3475.9 171.9,3478.7 172.3,3476.3 172.7,3474.8 173.1,3477.1 173.5,3479.9 174,3474.8 174.4,3477.9 174.8,3476.6 175.2,3477.5 175.6,3475 176,3480.6 176.5,3476 176.9,3478.5 177.3,3477.4 177.7,3474.9 178.1,3478.9 178.5,3476.3 179,3476.1 179.4,3476.3 179.8,3477.5 180.2,3477.5 180.6,3481.6 181.1,3481.1 181.5,3484.8 181.9,3485 182.3,3485.9 182.7,3481.2 183.1,3483.1 183.6,3482.3 184,3485.1 184.4,3485.8 184.8,3487.5 185.2,3487.3 185.6,3484.7 186.1,3486.3 186.5,3487.5 186.9,3484.4 187.3,3485.1 187.7,3488.1 188.1,3486.5 188.6,3491.1 189,3488.2 189.4,3487.6 189.8,3488.6 190.2,3489.3 190.6,3489.6 191.1,3492 191.5,3492 191.9,3491.3 192.3,3493.8 192.7,3491.2 193.1,3496.3 193.6,3497 194,3495.7 194.4,3494 194.8,3494.8 195.2,3495.5 195.6,3492.2 196.1,3494.9 196.5,3495.9 196.9,3493.8 197.3,3493.5 197.7,3498.5 198.1,3495.8 198.6,3497.1 199,3500 199.4,3498.1 199.8,3496.1 200.2,3501.1 200.7,3497.1 201.1,3494.9 201.5,3499.6 201.9,3495.9 202.3,3497.4 202.7,3501.3 203.2,3500.3 203.6,3496 204,3499.1 204.4,3499 204.8,3499.7 205.2,3498 205.7,3500.8 206.1,3497.4 206.5,3499 206.9,3499.8 207.3,3503.8 207.7,3498.1 208.2,3502.9 208.6,3499.2 209,3501.9 209.4,3500.8 209.8,3501.5 210.2,3503.6 210.7,3501.3 211.1,3499.6 211.5,3499.7 211.9,3499.6 212.3,3505 212.7,3503.7 213.2,3506 213.6,3504.3 214,3499.9 214.4,3504.4 214.8,3505.3 215.2,3505.1 215.7,3503.7 216.1,3502.8 216.5,3503.6 216.9,3506.1 217.3,3502.6 217.7,3504.5 218.2,3504.3 218.6,3507.7 219,3506.8 219.4,3507.8 219.8,3507.2 220.2,3503.7 220.7,3503.4 221.1,3505.2 221.5,3503.8 221.9,3505 222.3,3506.9 222.8,3508.6 223.2,3506.5 223.6,3508.2 224,3503.4 224.4,3505.3 224.8,3509.7 225.3,3504.1 225.7,3506 226.1,3503.7 226.5,3504 226.9,3509.6 227.3,3510.3 227.8,3508.1 228.2,3504.7 228.6,3505.9 229,3505.6 229.4,3508.7 229.8,3508.9 230.3,3507.3 230.7,3508 231.1,3505.3 231.5,3508.3 231.9,3511.2 232.3,3510 232.8,3505.6 233.2,3508.6 233.6,3510 234,3507 234.4,3511.4 234.8,3508.6 235.3,3510.3 235.7,3508.4 236.1,3512.5 236.5,3511.2 236.9,3509.8 237.3,3507 237.8,3509.1 238.2,3506.4 238.6,3510.3 239,3512.4 239.4,3507.7 239.8,3510 240.3,3509.9 240.7,3509.5 241.1,3511.7 241.5,3513.3 241.9,3511.8 242.4,3510.3 242.8,3513.7 243.2,3509.5 243.6,3512.4 244,3511.9 244.4,3512.7 244.9,3513.4 245.3,3509.2 245.7,3512 246.1,3510.6 246.5,3512.5 246.9,3514.7 247.4,3512.4 247.8,3508.3 248.2,3511.4 248.6,3513.2 249,3514.4 249.4,3512.9 249.9,3514.1 250.3,3508.8 250.7,3515.1 251.1,3513.8 251.5,3513 251.9,3515.1 252.4,3515.1 252.8,3509.8 253.2,3514.7 253.6,3514.5 254,3510.7 254.4,3514.5 254.9,3513.5 255.3,3510.9 255.7,3515.1 256.1,3510.6 256.5,3513.9 256.9,3512.8 257.4,3511.6 257.8,3513.8 258.2,3513.2 258.6,3511.5 259,3516.8 259.4,3510.8 259.9,3510.3 260.3,3513.7 260.7,3516.2 261.1,3515 261.5,3515.7 261.9,3514 262.4,3515.3 262.8,3513.1 263.2,3512.7 263.6,3514.3 264,3511.2 264.5,3511.6 264.9,3516.2 265.3,3512.4 265.7,3516.3 266.1,3516.6 266.5,3514.1 267,3516 267.4,3516.8 267.8,3517.4 268.2,3512.5 268.6,3512.8 269,3514.3 269.5,3514.9 269.9,3513.8 270.3,3512 270.7,3515.7 271.1,3518.6 271.5,3514.6 272,3515.8 272.4,3514.8 272.8,3515.2 273.2,3518.2 273.6,3514.4 274,3516.8 274.5,3515.7 274.9,3516.2 275.3,3518.8 275.7,3513.1 276.1,3518.3 276.5,3514.8 277,3517.2 277.4,3518.2 277.8,3517.3 278.2,3515.6 278.6,3518.7 279,3513.7 279.5,3517.4 279.9,3515.8 280.3,3516.8 280.7,3519 281.1,3518.7 281.5,3517.6 282,3515.5 282.4,3515 282.8,3516.6 283.2,3515.1 283.6,3515.5 284.1,3520.1 284.5,3514.4 284.9,3519.3 285.3,3516.4 285.7,3516.3 286.1,3516 286.6,3514.4 287,3517.1 287.4,3515.1 287.8,3517.1 288.2,3516.1 288.6,3520.2 289.1,3520.4 289.5,3517.2 289.9,3518.6 290.3,3520.6 290.7,3516.6 291.1,3515.1 291.6,3516.1 292,3515.8 292.4,3519.1 292.8,3517.1 293.2,3517 293.6,3520.1 294.1,3516.3 294.5,3520.2 294.9,3519.1 295.3,3517.5 295.7,3520.4 296.1,3517.2 296.6,3520.9 297,3521.3 297.4,3518.4 297.8,3519.7 298.2,3521.5 298.6,3520.2 299.1,3520.3 299.5,3521.1 299.9,3521.6 300.3,3520.4 300.7,3522 301.1,3517.3 301.6,3519.6 302,3520 302.4,3517.9 302.8,3518.2 303.2,3516.7 303.6,3522 304.1,3518 304.5,3518.8 304.9,3521.7 305.3,3516.9 305.7,3522.2 306.2,3516.6 306.6,3516 307,3518.2 307.4,3518.3 307.8,3522.1 308.2,3521.9 308.7,3521.1 309.1,3518.9 309.5,3519.7 309.9,3517.6 310.3,3521.7 310.7,3518.7 311.2,3518 311.6,3520.5 312,3517.2 312.4,3518.3 312.8,3522.5 313.2,3516.9 313.7,3517.2 314.1,3517.7 314.5,3518 314.9,3519.2 315.3,3518.1 315.7,3518.7 316.2,3518.1 316.6,3518.1 317,3520.6 317.4,3518.8 317.8,3519.1 318.2,3521.8 318.7,3517 319.1,3517.6 319.5,3522.4 319.9,3519.6 320.3,3522 320.7,3517.6 321.2,3520.3 321.6,3522.5 322,3519 322.4,3522 322.8,3520.9 323.2,3519.5 323.7,3523.6 324.1,3519.5 324.5,3520.1 324.9,3521.1 325.3,3519.1 325.8,3522.6 326.2,3521 326.6,3521 327,3520.6 327.4,3523.7 327.8,3523.7 328.3,3522.7 328.7,3520.1 329.1,3519.8 329.5,3520.6 329.9,3517.4 330.3,3517.8 330.8,3523.9 331.2,3518 331.6,3523.5 332,3521.8 332.4,3523.4 332.8,3517.7 333.3,3519.2 333.7,3522.6 334.1,3517.2 334.5,3517.9 334.9,3519.6 335.3,3518.4 335.8,3518.2 336.2,3521.8 336.6,3517.8 337,3523.8 337.4,3521.6 337.8,3517.5 338.3,3523.3 338.7,3518.8 339.1,3520.5 339.5,3521 339.9,3518.1 340.3,3520.6 340.8,3517.6 341.2,3518.5 341.6,3523.4 342,3522.7 342.4,3520.7 342.8,3521.7 343.3,3523 343.7,3518 344.1,3520.4 344.5,3517.9 344.9,3517.8 345.4,3517.7 345.8,3518.3 346.2,3517.2 346.6,3518.3 347,3519.3 347.4,3520.9 347.9,3522.4 348.3,3522.7 348.7,3521.3 349.1,3519.8 349.5,3522.4 349.9,3517.1 350.4,3516.5 350.8,3521.1 351.2,3519.6 351.6,3516.3 352,3517 352.4,3515.8 352.9,3515.9 353.3,3514.7 353.7,3513.1 354.1,3514 354.5,3511.9 354.9,3507.7 355.4,3504.5 355.8,3500.8 356.2,3502.5 356.6,3503.7 357,3499.7 357.4,3505 357.9,3507.5 358.3,3509.7 358.7,3507.6 359.1,3513 359.5,3512.1 359.9,3513.2 360.4,3516.7 360.8,3517.8 361.2,3518.1 361.6,3519.2 362,3519.1 362.4,3517.7 362.9,3514.9 363.3,3519.9 363.7,3520.2 364.1,3520.3 364.5,3518.7 364.9,3514.8 365.4,3515.8 365.8,3515.1 366.2,3518.6 366.6,3517.9 367,3515.3 367.5,3520.3 367.9,3520.3 368.3,3519.6 368.7,3516.4 369.1,3514.9 369.5,3514.1 370,3517.9 370.4,3516.7 370.8,3513.4 371.2,3517.2 371.6,3514.4 372,3512.7 372.5,3512.1 372.9,3513.4 373.3,3510.7 373.7,3511.1 374.1,3506.3 374.5,3509 375,3504.6 375.4,3507.4 375.8,3500.8 376.2,3499.6 376.6,3498.8 377,3495.4 377.5,3493.6 377.9,3493.5 378.3,3485.5 378.7,3486.1 379.1,3482.1 379.5,3479.2 380,3473.3 380.4,3469.9 380.8,3465.8 381.2,3463.6 381.6,3459.5 382,3457 382.5,3457.7 382.9,3455.3 383.3,3457.6 383.7,3459.6 384.1,3459.7 384.5,3461.4 385,3467.3 385.4,3472.4 385.8,3471.6 386.2,3477.8 386.6,3481.6 387.1,3486.5 387.5,3488.4 387.9,3488.8 388.3,3491 388.7,3497.9 389.1,3496.6 389.6,3496.9 390,3504.6 390.4,3501.8 390.8,3504.2 391.2,3505.6 391.6,3506.4 392.1,3510.7 392.5,3509.1 392.9,3510.6 393.3,3511.2 393.7,3514.6 394.1,3509.6 394.6,3513.9 395,3511.3 395.4,3511.8 395.8,3515.3 396.2,3514 396.6,3512.2 397.1,3515.9 397.5,3518.4 397.9,3516.7 398.3,3515.9 398.7,3518.1 399.1,3519 399.6,3513.9 400,3515 400.4,3519.6 400.8,3519.4 401.2,3514.6 401.6,3518 402.1,3519.2 402.5,3517.3 402.9,3518.1 403.3,3516.9 403.7,3514.9 404.1,3514.8 404.6,3513.8 405,3517.9 405.4,3514.2 405.8,3517.5 406.2,3515.9 406.6,3516.2 407.1,3519.8 407.5,3515.8 407.9,3516.3 408.3,3515.6 408.7,3514.4 409.2,3514.4 409.6,3516.4 410,3518.2 410.4,3513.2 410.8,3518.9 411.2,3517 411.7,3512.6 412.1,3516.9 412.5,3514.7 412.9,3515.4 413.3,3512.4 413.7,3515.1 414.2,3515 414.6,3516.6 415,3515.1 415.4,3515.8 415.8,3515.8 416.2,3512.1 416.7,3510.6 417.1,3513.5 417.5,3510.9 417.9,3510.8 418.3,3511.8 418.7,3513 419.2,3513.3 419.6,3513.2 420,3515 420.4,3509 420.8,3511.8 421.2,3508.3 421.7,3512 422.1,3510.1 422.5,3507.7 422.9,3508.5 423.3,3510.5 423.7,3508.9 424.2,3511.7 424.6,3507.2 425,3506.7 425.4,3510.2 425.8,3507.6 426.2,3503.7 426.7,3507.8 427.1,3504.4 427.5,3507.8 427.9,3505.1 428.3,3505.6 428.8,3505.5 429.2,3502.2 429.6,3504.6 430,3497.4 430.4,3498.7 430.8,3501.2 431.3,3494.6 431.7,3498.1 432.1,3499.3 432.5,3496.3 432.9,3496 433.3,3489.4 433.8,3491.2 434.2,3490.2 434.6,3487.5 435,3485.7 435.4,3486.4 435.8,3480.2 436.3,3477.3 436.7,3478.8 437.1,3479 437.5,3475.5 437.9,3471.7 438.3,3466.2 438.8,3467.2 439.2,3458 439.6,3455.8 440,3455.7 440.4,3452.3 440.8,3444.7 441.3,3443.5 441.7,3433.2 442.1,3431.4 442.5,3422.3 442.9,3417.7 443.3,3411.4 443.8,3403.8 444.2,3399.8 444.6,3393.5 445,3384.8 445.4,3379.8 445.8,3367.9 446.3,3363 446.7,3354.8 447.1,3345.5 447.5,3340.4 447.9,3326.3 448.3,3319.6 448.8,3311.1 449.2,3301.9 449.6,3297.6 450,3286.8 450.4,3278.7 450.9,3271 451.3,3264.5 451.7,3262.2 452.1,3256.2 452.5,3251.2 452.9,3245 453.4,3246.2 453.8,3242.4 454.2,3244.4 454.6,3243.9 455,3251.3 455.4,3257 455.9,3259.6 456.3,3264.8 456.7,3269.1 457.1,3277.5 457.5,3285.2 457.9,3292.9 458.4,3300.2 458.8,3308.4 459.2,3320.6 459.6,3330.6 460,3338.3 460.4,3345.4 460.9,3349.7 461.3,3359.7 461.7,3371.3 462.1,3379.9 462.5,3384.4 462.9,3391.7 463.4,3399.3 463.8,3402.8 464.2,3412.2 464.6,3415.7 465,3424.6 465.4,3427.2 465.9,3433.6 466.3,3437.5 466.7,3441.8 467.1,3445.4 467.5,3452.6 467.9,3454.9 468.4,3455.9 468.8,3459.6 469.2,3465.2 469.6,3466.8 470,3468.6 470.5,3473 470.9,3469.3 471.3,3474.5 471.7,3476.4 472.1,3476.8 472.5,3481.6 473,3482.9 473.4,3480.1 473.8,3482.7 474.2,3484.5 474.6,3484.8 475,3483.1 475.5,3486.6 475.9,3483.9 476.3,3482.8 476.7,3486.5 477.1,3486.4 477.5,3484.7 478,3485 478.4,3488 478.8,3486.2 479.2,3482.8 479.6,3485.3 480,3481.9 480.5,3479.4 480.9,3479.4 481.3,3478.4 481.7,3476.8 482.1,3472.5 482.5,3469.1 483,3463.4 483.4,3456.3 483.8,3453.7 484.2,3445 484.6,3443.3 485,3430.9 485.5,3422.9 485.9,3412.8 486.3,3396.7 486.7,3387.5 487.1,3369.1 487.5,3351.1 488,3337.3 488.4,3317.9 488.8,3302.9 489.2,3281.6 489.6,3262.2 490,3246.9 490.5,3235.4 490.9,3231.2 491.3,3230.3 491.7,3228.6 492.1,3238.3 492.6,3251.3 493,3269.4 493.4,3287.4 493.8,3305.3 494.2,3322.6 494.6,3340.7 495.1,3356.1 495.5,3375.5 495.9,3387.9 496.3,3403 496.7,3419.4 497.1,3429 497.6,3440.3 498,3447.5 498.4,3454.1 498.8,3462.5 499.2,3469 499.6,3471.9 500.1,3480.5 500.5,3485.4 500.9,3483.4 501.3,3486.7 501.7,3493.2 502.1,3494.9 502.6,3493.6 503,3497.9 503.4,3497.1 503.8,3502.9 504.2,3502.3 504.6,3503 505.1,3501.8 505.5,3504.5 505.9,3505.9 506.3,3506 506.7,3505.6 507.1,3506.5 507.6,3510.7 508,3512.9 508.4,3512.9 508.8,3512 509.2,3513.7 509.6,3509.8 510.1,3510.8 510.5,3514.6 510.9,3510.3 511.3,3511.3 511.7,3516.4 512.2,3512.8 512.6,3513.1 513,3514.9 513.4,3518.2 513.8,3512.9 514.2,3519.1 514.7,3515.5 515.1,3517.6 515.5,3517.2 515.9,3515 516.3,3521 516.7,3515.9 517.2,3520.4 517.6,3521.1 518,3518.4 518.4,3522 518.8,3516.1 519.2,3516.9 519.7,3519.3 520.1,3516.7 520.5,3521.9 520.9,3520.1 521.3,3522.1 521.7,3518.8 522.2,3517.1 522.6,3523.1 523,3518.6 523.4,3520.2 523.8,3518.3 524.2,3521.6 524.7,3520.8 525.1,3519.2 525.5,3518.2 525.9,3520.3 526.3,3523.4 526.7,3519.3 527.2,3519.9 527.6,3522.6 528,3522.8 528.4,3524 528.8,3523 529.2,3524.5 529.7,3519.9 530.1,3525.2 530.5,3519.2 530.9,3519.8 531.3,3519.8 531.7,3524.4 532.2,3522.7 532.6,3525.6 533,3526 533.4,3525.9 533.8,3523.7 534.3,3521.9 534.7,3526.1 535.1,3524.6 535.5,3521 535.9,3523.5 536.3,3519.9 536.8,3520 537.2,3524.2 537.6,3524.8 538,3525.8 538.4,3525.1 538.8,3521 539.3,3525.1 539.7,3526.8 540.1,3524.7 540.5,3523.4 540.9,3522.2 541.3,3520.7 541.8,3524.5 542.2,3526.8 542.6,3521.1 543,3525.9 543.4,3526.5 543.8,3522.8 544.3,3526.1 544.7,3521.5 545.1,3522.5 545.5,3524.3 545.9,3526.4 546.3,3524.1 546.8,3521 547.2,3526.8 547.6,3524.3 548,3525.7 548.4,3522 548.8,3522.7 549.3,3521 549.7,3521.6 550.1,3523.3 550.5,3523.1 550.9,3524.7 551.3,3525.9 551.8,3522.5 552.2,3526.5 552.6,3524.6 553,3522.4 553.4,3521.3 553.9,3526.4 554.3,3524.3 554.7,3520.1 555.1,3524.4 555.5,3522.2 555.9,3522.4 556.4,3524.7 556.8,3520.9 557.2,3521.1 557.6,3522.8 558,3525.2 558.4,3519.5 558.9,3524.4 559.3,3523.5 559.7,3519.7 560.1,3522.8 560.5,3522.4 560.9,3522.8 561.4,3521.5 561.8,3519.8 562.2,3520.9 562.6,3518.9 563,3520.2 563.4,3519.7 563.9,3517.4 564.3,3518.1 564.7,3518.7 565.1,3518.8 565.5,3519.8 565.9,3520.9 566.4,3517.4 566.8,3519.2 567.2,3517.6 567.6,3516.7 568,3516 568.4,3521.5 568.9,3521.2 569.3,3520.5 569.7,3515.9 570.1,3515.8 570.5,3515.5 570.9,3516.8 571.4,3517.7 571.8,3515 572.2,3517.9 572.6,3519.8 573,3520.9 573.4,3516.7 573.9,3515.6 574.3,3521.1 574.7,3518.5 575.1,3518.3 575.5,3517.4 576,3518.4 576.4,3518.6 576.8,3518.7 577.2,3518.8 577.6,3520.9 578,3523.2 578.5,3520 578.9,3520.9 579.3,3521.6 579.7,3524.2 580.1,3523.9 580.5,3525.6 581,3520.2 581.4,3524.7 581.8,3521.4 582.2,3523.5 582.6,3523.4 583,3523.8 583.5,3522.3 583.9,3520.7 584.3,3520.4 584.7,3526.8 585.1,3526.7 585.5,3523.9 586,3521.5 586.4,3526.7 586.8,3524.5 587.2,3524.4 587.6,3525.6 588,3522.5 588.5,3523 588.9,3527.1 589.3,3526.6 589.7,3528.4 590.1,3524.7 590.5,3528.5 591,3528 591.4,3525.4 591.8,3528.1 592.2,3523.2 592.6,3522.6 593,3527.7 593.5,3523.2 593.9,3525.8 594.3,3527.3 594.7,3527 595.1,3523.9 595.6,3527.8 596,3522.7 596.4,3526.3 596.8,3528.6 597.2,3526.2 597.6,3524.6 598.1,3529.4 598.5,3527.5 598.9,3528 599.3,3528.7 599.7,3529 600.1,3526.6 600.6,3528.3 601,3526.1 601.4,3524.5 601.8,3524.6 602.2,3524.5 602.6,3522.9 603.1,3527 603.5,3525.5 603.9,3529 604.3,3523.2 604.7,3528.1 605.1,3524.1 605.6,3525 606,3524.8 606.4,3529.3 606.8,3527.2 607.2,3526 607.6,3524.1 608.1,3523.2 608.5,3525.3 608.9,3529.5 609.3,3525.9 609.7,3527.4 610.1,3528.8 610.6,3523.2 611,3525 611.4,3525.7 611.8,3524.4 612.2,3525.4 612.6,3527.5 613.1,3523.7 613.5,3527.5 613.9,3524.8 614.3,3527.3 614.7,3524 615.1,3528.1 615.6,3525.6 616,3528.4 616.4,3529.3 616.8,3526.6 617.2,3522.8 617.7,3525.1 618.1,3529.3 618.5,3527 618.9,3527.7 619.3,3525.8 619.7,3528.9 620.2,3528.7 620.6,3526.6 621,3526.4 621.4,3523.1 621.8,3522.4 622.2,3523.7 622.7,3527.2 623.1,3528 623.5,3527.4 623.9,3528.2 624.3,3522.3 624.7,3522.2 625.2,3523.7 625.6,3522 626,3525.8 626.4,3528 626.8,3527.7 627.2,3522.3 627.7,3525.9 628.1,3525.9 628.5,3525.7 628.9,3523.9 629.3,3522.5 629.7,3526.8 630.2,3526.7 630.6,3525.3 631,3523.9 631.4,3520.2 631.8,3521.6 632.2,3521.1 632.7,3520.9 633.1,3520.4 633.5,3523.1 633.9,3522.8 634.3,3519 634.7,3523.5 635.2,3516.9 635.6,3522.9 636,3519.8 636.4,3519.6 636.8,3516.5 637.3,3518.6 637.7,3519.2 638.1,3513.8 638.5,3512.5 638.9,3516.2 639.3,3511.6 639.8,3509.7 640.2,3511.4 640.6,3508.4 641,3507.6 641.4,3507.1 641.8,3504.8 642.3,3508.8 642.7,3506.2 643.1,3505.9 643.5,3502.7 643.9,3505.3 644.3,3506.1 644.8,3505.9 645.2,3499.2 645.6,3500.9 646,3499.5 646.4,3502.3 646.8,3503.9 647.3,3504.1 647.7,3503 648.1,3507.9 648.5,3506.4 648.9,3509.9 649.3,3506.9 649.8,3509.4 650.2,3506.6 650.6,3510.5 651,3512.2 651.4,3510.3 651.8,3513.9 652.3,3511.4 652.7,3514.4 653.1,3516.2 653.5,3516.1 653.9,3514.5 654.3,3515.4 654.8,3517.3 655.2,3519.7 655.6,3518.8 656,3517.7 656.4,3519 656.8,3519.2 657.3,3518.5 657.7,3521.9 658.1,3521.4 658.5,3520.6 658.9,3518.7 659.4,3525.1 659.8,3519.4 660.2,3520 660.6,3521.4 661,3524.9 661.4,3526 661.9,3524.9 662.3,3521.2 662.7,3525.5 663.1,3520.1 663.5,3520.7 663.9,3520.7 664.4,3523.8 664.8,3524 665.2,3524.2 665.6,3526.3 666,3524.9 666.4,3524.8 666.9,3520.8 667.3,3525.7 667.7,3525.7 668.1,3524.9 668.5,3519.7 668.9,3523.9 669.4,3522.3 669.8,3522.3 670.2,3520.2 670.6,3523.4 671,3523.3 671.4,3522.7 671.9,3519.1 672.3,3521.7 672.7,3516.8 673.1,3520.2 673.5,3515.1 673.9,3514.2 674.4,3514 674.8,3516.7 675.2,3517.7 675.6,3512.8 676,3512.3 676.4,3509.9 676.9,3509.3 677.3,3507.5 677.7,3503.4 678.1,3496.6 678.5,3490.8 679,3492 679.4,3482.9 679.8,3480.8 680.2,3475.9 680.6,3465.2 681,3459.5 681.5,3455.4 681.9,3453.2 682.3,3449.2 682.7,3447.6 683.1,3441.8 683.5,3445.1 684,3449.4 684.4,3450.1 684.8,3456.6 685.2,3459.8 685.6,3470 686,3473.1 686.5,3479.1 686.9,3485.6 687.3,3488.3 687.7,3496.1 688.1,3497.7 688.5,3501.1 689,3506.2 689.4,3508.5 689.8,3511.1 690.2,3514.2 690.6,3515.5 691,3514.2 691.5,3517.1 691.9,3519.7 692.3,3515.1 692.7,3520 693.1,3519.8 693.5,3519.5 694,3518.1 694.4,3519.7 694.8,3523.3 695.2,3524.6 695.6,3525.6 696,3524.3 696.5,3525.5 696.9,3525.3 697.3,3521.1 697.7,3524.9 698.1,3526.3 698.5,3525.7 699,3522.6 699.4,3525.6 699.8,3523.7 700.2,3524.1 700.6,3526.2 701.1,3526 701.5,3522.4 701.9,3525.9 702.3,3522.1 702.7,3523.2 703.1,3527.4 703.6,3528.1 704,3523.7 704.4,3527.2 704.8,3523.3 705.2,3525.5 705.6,3524.6 706.1,3522.8 706.5,3525.2 706.9,3526.1 707.3,3528.1 707.7,3523.1 708.1,3524.4 708.6,3522.4 709,3523.9 709.4,3524.3 709.8,3528.1 710.2,3528.9 710.6,3524 711.1,3525.8 711.5,3526.1 711.9,3525.9 712.3,3529 712.7,3529 713.1,3522.8 713.6,3525.3 714,3526.1 714.4,3526.9 714.8,3526.1 715.2,3528 715.6,3523.1 716.1,3525.6 716.5,3528 716.9,3523.5 717.3,3523.5 717.7,3526.5 718.1,3523.3 718.6,3525.9 719,3523 719.4,3523.4 719.8,3524.4 720.2,3527.4 720.7,3526.1 721.1,3526.1 721.5,3526.1 721.9,3524.5 722.3,3528.4 722.7,3525.7 723.2,3525.8 723.6,3521.9 724,3523.1 724.4,3525.2 724.8,3527.6 725.2,3525.8 725.7,3521.3 726.1,3526.2 726.5,3522 726.9,3524.5 727.3,3521.6 727.7,3520.5 728.2,3525.1 728.6,3523 729,3523.5 729.4,3524 729.8,3523 730.2,3521.5 730.7,3520.6 731.1,3521.7 731.5,3519.4 731.9,3519.2 732.3,3522.5 732.7,3519 733.2,3521.1 733.6,3520.4 734,3518.5 734.4,3520.2 734.8,3516.6 735.2,3513.8 735.7,3519 736.1,3517.8 736.5,3517.1 736.9,3517.7 737.3,3513.6 737.7,3513 738.2,3513.6 738.6,3514.6 739,3509.9 739.4,3512.4 739.8,3513 740.2,3507.4 740.7,3505 741.1,3505.2 741.5,3507.7 741.9,3504.1 742.3,3508.3 742.8,3501.7 743.2,3506.5 743.6,3502.1 744,3505.4 744.4,3500.9 744.8,3498.8 745.3,3502.2 745.7,3499.3 746.1,3503.4 746.5,3502.5 746.9,3498.5 747.3,3500.1 747.8,3500.6 748.2,3502.3 748.6,3499.2 749,3501.6 749.4,3501.7 749.8,3502.7 750.3,3503 750.7,3502.8 751.1,3503.2 751.5,3503.9 751.9,3508.7 752.3,3506.3 752.8,3504.2 753.2,3506.9 753.6,3510.2 754,3510.4 754.4,3507.1 754.8,3510.1 755.3,3511.1 755.7,3514.4 756.1,3511.2 756.5,3516.3 756.9,3516.2 757.3,3511.5 757.8,3515.3 758.2,3516.1 758.6,3517.3 759,3519.6 759.4,3515.4 759.8,3520.1 760.3,3515 760.7,3521 761.1,3517.5 761.5,3516.3 761.9,3522 762.4,3523.4 762.8,3521.5 763.2,3522.6 763.6,3520.3 764,3519.5 764.4,3522.5 764.9,3523.6 765.3,3520.1 765.7,3521 766.1,3520.4 766.5,3520.4 766.9,3524.5 767.4,3518.7 767.8,3518.8 768.2,3519.9 768.6,3523.9 769,3522.3 769.4,3523.4 769.9,3522.7 770.3,3523.7 770.7,3521.2 771.1,3516.9 771.5,3516.8 771.9,3518.1 772.4,3515.2 772.8,3515.5 773.2,3513.9 773.6,3517.3 774,3515.5 774.4,3511.7 774.9,3508 775.3,3505.8 775.7,3501.4 776.1,3501.9 776.5,3498 776.9,3499.3 777.4,3500.4 777.8,3497.5 778.2,3500.2 778.6,3502.2 779,3504.6 779.4,3503.3 779.9,3504.2 780.3,3510.8 780.7,3510.3 781.1,3510.7 781.5,3515.2 781.9,3518 782.4,3520.3 782.8,3517.3 783.2,3517.6 783.6,3518.4 784,3519.5 784.5,3519.5 784.9,3524.8 785.3,3523.3 785.7,3519.7 786.1,3520.3 786.5,3521.2 787,3526.7 787.4,3522.6 787.8,3525.9 788.2,3522.1 788.6,3522 789,3527.1 789.5,3521.3 789.9,3524.2 790.3,3524.5 790.7,3523.2 791.1,3526 791.5,3526.7 792,3522.4 792.4,3522.9 792.8,3524.1 793.2,3524.1 793.6,3525 794,3525.9 794.5,3522.9 794.9,3526.9 795.3,3523.5 795.7,3520.5 796.1,3523.1 796.5,3523.7 797,3521.2 797.4,3525.8 797.8,3523.7 798.2,3523 798.6,3521.2 799,3520 799.5,3520.7 799.9,3523 800.3,3523 800.7,3522.7 801.1,3517.9 801.5,3522.6 802,3521.7 802.4,3521.1 802.8,3519.5 803.2,3521.3 803.6,3521.4 804.1,3518.1 804.5,3516.3 804.9,3516.2 805.3,3517.1 805.7,3515.2 806.1,3514.7 806.6,3510.2 807,3510.7 807.4,3506.6 807.8,3507.1 808.2,3501.3 808.6,3502.6 809.1,3501.5 809.5,3500.1 809.9,3494.4 810.3,3493.9 810.7,3486.1 811.1,3481.3 811.6,3481.2 812,3475.9 812.4,3472.2 812.8,3469.4 813.2,3466.3 813.6,3462.9 814.1,3455.3 814.5,3453.3 814.9,3450.4 815.3,3448 815.7,3445.2 816.1,3443.1 816.6,3445 817,3440.1 817.4,3446.6 817.8,3444.5 818.2,3447.4 818.6,3454 819.1,3456.3 819.5,3459.5 819.9,3461.9 820.3,3465.9 820.7,3471.5 821.1,3474.4 821.6,3482.4 822,3482.8 822.4,3487.6 822.8,3491.2 823.2,3496.2 823.6,3499.9 824.1,3501.3 824.5,3500.9 824.9,3502.5 825.3,3507.4 825.7,3507.9 826.2,3512 826.6,3510.1 827,3514.6 827.4,3513.6 827.8,3514.1 828.2,3514.4 828.7,3519.2 829.1,3518.3 829.5,3519.3 829.9,3521.9 830.3,3517 830.7,3521 831.2,3520 831.6,3519.9 832,3524.2 832.4,3520.6 832.8,3522.1 833.2,3522.6 833.7,3520.8 834.1,3522.3 834.5,3520.4 834.9,3524 835.3,3525.1 835.7,3527.9 836.2,3527.8 836.6,3523.7 837,3528.2 837.4,3522.5 837.8,3522.9 838.2,3525.7 838.7,3526.9 839.1,3526.4 839.5,3522.7 839.9,3525.4 840.3,3526.1 840.7,3525.4 841.2,3528.1 841.6,3528.1 842,3523.7 842.4,3526.4 842.8,3528 843.2,3528.7 843.7,3528 844.1,3530.2 844.5,3528.6 844.9,3526.3 845.3,3529.4 845.8,3528 846.2,3527.9 846.6,3527.9 847,3529.1 847.4,3528.8 847.8,3527.2 848.3,3529.5 848.7,3527 849.1,3529.3 849.5,3530.5 849.9,3527.9 850.3,3525.3 850.8,3530.5 851.2,3525.9 851.6,3525.9 852,3524.8 852.4,3527.4 852.8,3527.3 853.3,3530.2 853.7,3525.8 854.1,3527.2 854.5,3529.9 854.9,3524.9 855.3,3527.5 855.8,3525.8 856.2,3530 856.6,3526.8 857,3525.8 857.4,3525.6 857.8,3526.3 858.3,3529.7 858.7,3525.7 859.1,3525.2 859.5,3526.6 859.9,3525.2 860.3,3529.9 860.8,3530.1 861.2,3528.6 861.6,3527.3 862,3525.3 862.4,3529.9 862.8,3526.7 863.3,3528.8 863.7,3531.8 864.1,3526.7 864.5,3529.7 864.9,3528 865.3,3528.7 865.8,3527.8 866.2,3529.8 866.6,3528.6 867,3525.3 867.4,3530.6 867.9,3526.7 868.3,3527.4 868.7,3528.3 869.1,3529.1 869.5,3530.2 869.9,3525.8 870.4,3527.6 870.8,3529.2 871.2,3528.2 871.6,3526.6 872,3530.4 872.4,3531.5 872.9,3529.3 873.3,3528.5 873.7,3525.9 874.1,3528.1 874.5,3530.1 874.9,3526.9 875.4,3527.7 875.8,3527.7 876.2,3526.7 876.6,3528.7 877,3526.5 877.4,3530.6 877.9,3530 878.3,3526.3 878.7,3524.5 879.1,3524.1 879.5,3529.4 879.9,3526.6 880.4,3524.4 880.8,3523.7 881.2,3528.5 881.6,3524.4 882,3529.1 882.4,3525 882.9,3526.6 883.3,3524.4 883.7,3526.3 884.1,3522.5 884.5,3523 884.9,3521.7 885.4,3521 885.8,3524 886.2,3526.5 886.6,3519.5 887,3525 887.5,3520.6 887.9,3519.4 888.3,3518.1 888.7,3519.9 889.1,3517.8 889.5,3520.3 890,3519.8 890.4,3517.6 890.8,3522.3 891.2,3520.2 891.6,3521.4 892,3517.9 892.5,3521.3 892.9,3521.2 893.3,3522 893.7,3518.3 894.1,3523.8 894.5,3520.8 895,3518.6 895.4,3524.7 895.8,3520.9 896.2,3525.3 896.6,3521 897,3520.5 897.5,3523.9 897.9,3524.5 898.3,3525.7 898.7,3525.8 899.1,3524.2 899.5,3527.2 900,3525.9 900.4,3523.6 900.8,3526.9 901.2,3525.5 901.6,3527.1 902,3524.6 902.5,3525.5 902.9,3525.7 903.3,3528.6 903.7,3524.4 904.1,3527.2 904.5,3527.3 905,3530.6 905.4,3525.6 905.8,3528.4 906.2,3530.5 906.6,3527.8 907,3531.6 907.5,3526.9 907.9,3528.6 908.3,3527.4 908.7,3527.3 909.1,3525.9 909.6,3530.8 910,3530 910.4,3531.3 910.8,3528.9 911.2,3526.9 911.6,3530.2 912.1,3532.1 912.5,3529.5 912.9,3527.6 913.3,3529.4 913.7,3531.6 914.1,3531.4 914.6,3530.2 915,3531 915.4,3526.2 915.8,3526.9 916.2,3526.1 916.6,3529.1 917.1,3529.3 917.5,3526.2 917.9,3531.6 918.3,3529.8 918.7,3531.1 919.1,3532.7 919.6,3531.3 920,3531.2 920.4,3530.5 920.8,3529.7 921.2,3531.4 921.6,3531.5 922.1,3528.2 922.5,3531.7 922.9,3527.2 923.3,3529.9 923.7,3532.5 924.1,3527.7 924.6,3532.3 925,3529.6 925.4,3531.3 925.8,3527.3 926.2,3526.7 926.6,3528 927.1,3530.4 927.5,3532.4 927.9,3530.2 928.3,3529.9 928.7,3528.9 929.2,3529.8 929.6,3531.2 930,3532.3 930.4,3528.7 930.8,3531 931.2,3528.8 931.7,3528.1 932.1,3526.8 932.5,3529.2 932.9,3530.6 933.3,3529.9 933.7,3529.5 934.2,3531.7 934.6,3529.5 935,3531.2 935.4,3530.2 935.8,3532.9 936.2,3528.7 936.7,3529.5 937.1,3531.7 937.5,3528.5 937.9,3531.9 938.3,3528.7 938.7,3527.5 939.2,3530.2 939.6,3530.3 940,3528.6 940.4,3528.4 940.8,3533.3 941.2,3529.9 941.7,3531.3 942.1,3529.4 942.5,3530.2 942.9,3528.4 943.3,3527.7 943.7,3532.2 944.2,3531.1 944.6,3528.6 945,3529.3 945.4,3530.3 945.8,3526.9 946.2,3530.7 946.7,3533.3 947.1,3531.2 947.5,3529.7 947.9,3527.3 948.3,3530.2 948.7,3530.4 949.2,3531.2 949.6,3532.5 950,3528.3 950.4,3527.2 950.8,3533 951.3,3530.1 951.7,3532.5 952.1,3530.5 952.5,3532.5 952.9,3530.5 953.3,3531.3 953.8,3530.7 954.2,3532.8 954.6,3531.5 955,3533 955.4,3529.1 955.8,3527.7 956.3,3527.6 956.7,3529.4 957.1,3530 957.5,3530.9 957.9,3529.3 958.3,3532.7 958.8,3528.8 959.2,3526.1 959.6,3529.6 960,3530.4 960.4,3527.5 960.8,3530.9 961.3,3527.1 961.7,3531.8 962.1,3528.6 962.5,3531.9 962.9,3529.5 963.3,3530.1 963.8,3526.4 964.2,3530.8 964.6,3531.3 965,3525.3 965.4,3528 965.8,3524.8 966.3,3529.3 966.7,3528.7 967.1,3528.5 967.5,3527 967.9,3523.8 968.3,3524.8 968.8,3520.2 969.2,3519.7 969.6,3522 970,3522.5 970.4,3518.7 970.9,3516.2 971.3,3515.8 971.7,3517.4 972.1,3517.5 972.5,3521.2 972.9,3520 973.4,3521.7 973.8,3521.4 974.2,3521.8 974.6,3522.9 975,3520 975.4,3524.5 975.9,3524 976.3,3525.1 976.7,3524.8 977.1,3525.1 977.5,3528.3 977.9,3528.5 978.4,3524.8 978.8,3529.7 979.2,3527.9 979.6,3525 980,3530.2 980.4,3531 980.9,3528.2 981.3,3528.3 981.7,3527.4 982.1,3527 982.5,3529.4 982.9,3528.8 983.4,3530.4 983.8,3530.5 984.2,3527.4 984.6,3531.4 985,3529.3 985.4,3529 985.9,3527.6 986.3,3530.5 986.7,3531 987.1,3531.7 987.5,3532 987.9,3528.9 988.4,3530.2 988.8,3530.7 989.2,3529.2 989.6,3526.7 990,3531.6 990.4,3532.8 990.9,3529.9 991.3,3533 991.7,3527.1 992.1,3530.7 992.5,3529.4 993,3531.1 993.4,3529.2 993.8,3531.7 994.2,3528.2 994.6,3528.8 995,3529.6 995.5,3529.7 995.9,3529.7 996.3,3533.3 996.7,3530.4 997.1,3530.7 997.5,3527.8 998,3530.5 998.4,3532.1 998.8,3531.7 999.2,3533.4 999.6,3531 1000,3529.5 1000.5,3532.9 1000.9,3533.6 1001.3,3533.6 1001.7,3527.7 1002.1,3531.6 1002.5,3528 1003,3528.8 1003.4,3532.3 1003.8,3532.9 1004.2,3531 1004.6,3529.2 1005,3530.3 1005.5,3529.1 1005.9,3528.8 1006.3,3528.4 1006.7,3533.5 1007.1,3533.4 1007.5,3528.3 1008,3532.8 1008.4,3532.1 1008.8,3532 1009.2,3528.8 1009.6,3530.7 1010,3532.6 1010.5,3531.8 1010.9,3533.4 1011.3,3527.4 1011.7,3529.3 1012.1,3529.6 1012.6,3529.9 1013,3533.8 1013.4,3533.7 1013.8,3532.7 1014.2,3531.5 1014.6,3532.3 1015.1,3532.8 1015.5,3528.5 1015.9,3531.3 1016.3,3533.8 1016.7,3528.2 1017.1,3530.1 1017.6,3529.6 1018,3532.9 1018.4,3530.2 1018.8,3528 1019.2,3529.6 1019.6,3531.5 1020.1,3530.8 1020.5,3527.3 1020.9,3532.6 1021.3,3529 1021.7,3527.3 1022.1,3531.3 1022.6,3531.7 1023,3531.2 1023.4,3527.7 1023.8,3527.2 1024.2,3532 1024.6,3530.6 1025.1,3527.2 1025.5,3530.9 1025.9,3527.7 1026.3,3530.3 1026.7,3531.9 1027.1,3528.6 1027.6,3529.9 1028,3532 1028.4,3529 1028.8,3531.3 1029.2,3527.5 1029.6,3531.9 1030.1,3528.7 1030.5,3530 1030.9,3533.8 1031.3,3532.4 1031.7,3528.3 1032.1,3532.5 1032.6,3529.8 1033,3530.4 1033.4,3529 1033.8,3528.2 1034.2,3533.8 1034.7,3529.7 1035.1,3528.5 1035.5,3532.5 1035.9,3527.8 1036.3,3529.9 1036.7,3527.8 1037.2,3527.3 1037.6,3533.7 1038,3530.4 1038.4,3531.5 1038.8,3528 1039.2,3529.5 1039.7,3527.4 1040.1,3532.7 1040.5,3527 1040.9,3533.4 1041.3,3533.5 1041.7,3528.3 1042.2,3528.9 1042.6,3528.2 1043,3527.1 1043.4,3530.2 1043.8,3530.5 1044.2,3532.9 1044.7,3530.2 1045.1,3528.1 1045.5,3529.8 1045.9,3528 1046.3,3527.1 1046.7,3529.5 1047.2,3532.5 1047.6,3527.4 1048,3533.5 1048.4,3532.5 1048.8,3533.6 1049.2,3530.8 1049.7,3528.9 1050.1,3532 1050.5,3527.8 1050.9,3530.3 1051.3,3532.4 1051.7,3530.3 1052.2,3531.9 1052.6,3527.9 1053,3532.5 1053.4,3527.6 1053.8,3528.9 1054.3,3530.6 1054.7,3532.8 1055.1,3527.3 1055.5,3528.4 1055.9,3531.7 1056.3,3528.1 1056.8,3529.1 1057.2,3527.6 1057.6,3533.1 1058,3531.6 1058.4,3528.8 1058.8,3533 1059.3,3532.2 1059.7,3528.3 1060.1,3526.6 1060.5,3530.9 1060.9,3530.3 1061.3,3527.7 1061.8,3525.9 1062.2,3527.7 1062.6,3532 1063,3530.3 1063.4,3530.1 1063.8,3530.2 1064.3,3527.2 1064.7,3531.3 1065.1,3528.4 1065.5,3531.4 1065.9,3529.1 1066.3,3529.5 1066.8,3530.7 1067.2,3531.3 1067.6,3529.3 1068,3530.7 1068.4,3527 1068.8,3526.2 1069.3,3525.6 1069.7,3526.2 1070.1,3529.6 1070.5,3525.6 1070.9,3524.8 1071.3,3523.6 1071.8,3527.6 1072.2,3528.9 1072.6,3525.2 1073,3523.1 1073.4,3527 1073.8,3527.4 1074.3,3524.1 1074.7,3524.3 1075.1,3523.4 1075.5,3524.2 1075.9,3524.8 1076.4,3526.4 1076.8,3522.1 1077.2,3526.1 1077.6,3523.4 1078,3522.1 1078.4,3524.5 1078.9,3520.2 1079.3,3522 1079.7,3524.3 1080.1,3523.5 1080.5,3523.5 1080.9,3521.1 1081.4,3521.7 1081.8,3522.5 1082.2,3518.7 1082.6,3523.5 1083,3522.3 1083.4,3520.1 1083.9,3520.8 1084.3,3523.1 1084.7,3516.7 1085.1,3518.5 1085.5,3522.6 1085.9,3516.9 1086.4,3521.3 1086.8,3518.6 1087.2,3518.2 1087.6,3516.9 1088,3518.5 1088.4,3519.1 1088.9,3521 1089.3,3522.1 1089.7,3520.7 1090.1,3517.7 1090.5,3520.2 1090.9,3522.9 1091.4,3518.2 1091.8,3521.4 1092.2,3518.1 1092.6,3518.7 1093,3520.4 1093.4,3522.4 1093.9,3520.4 1094.3,3518.1 1094.7,3520.8 1095.1,3517.3 1095.5,3522 1096,3521 1096.4,3519.6 1096.8,3521.8 1097.2,3520.1 1097.6,3521.2 1098,3522 1098.5,3523.7 1098.9,3519.8 1099.3,3525.3 1099.7,3524.8 1100.1,3520.5 1100.5,3525.7 1101,3521.6 1101.4,3525.8 1101.8,3521.8 1102.2,3526.5 1102.6,3526.7 1103,3524.9 1103.5,3526 1103.9,3526.8 1104.3,3526.2 1104.7,3524.4 1105.1,3527.6 1105.5,3528.7 1106,3526.5 1106.4,3528.9 1106.8,3525.7 1107.2,3526.5 1107.6,3528.3 1108,3526 1108.5,3529.4 1108.9,3529.6 1109.3,3525.7 1109.7,3527.2 1110.1,3530.6 1110.5,3528.3 1111,3525.2 1111.4,3530.6 1111.8,3526.4 1112.2,3528.5 1112.6,3531.6 1113,3530.7 1113.5,3530.7 1113.9,3525.8 1114.3,3527.5 1114.7,3526.7 1115.1,3532.7 1115.5,3527.5 1116,3527.2 1116.4,3531.1 1116.8,3531.6 1117.2,3531.2 1117.6,3530 1118.1,3532.5 1118.5,3530.6 1118.9,3526.8 1119.3,3532.3 1119.7,3526.7 1120.1,3533.5 1120.6,3530.7 1121,3531.1 1121.4,3528.5 1121.8,3532.7 1122.2,3529.4 1122.6,3530.9 1123.1,3527.4 1123.5,3531.6 1123.9,3532.8 1124.3,3531.3 1124.7,3532.6 1125.1,3531 1125.6,3530.9 1126,3532.8 1126.4,3528.5 1126.8,3529.9 1127.2,3532.7 1127.6,3532.3 1128.1,3533.5 1128.5,3532.3 1128.9,3531.9 1129.3,3531.7 1129.7,3528.9 1130.1,3532.6 1130.6,3533 1131,3529 1131.4,3530 1131.8,3530.4 1132.2,3532.5 1132.6,3528 1133.1,3528.3 1133.5,3533.8 1133.9,3532.8 1134.3,3530.3 1134.7,3528.7 1135.1,3527.6 1135.6,3528.6 1136,3533.6 1136.4,3528.2 1136.8,3533.4 1137.2,3528.9 1137.7,3533.1 1138.1,3529.2 1138.5,3532.5 1138.9,3532.9 1139.3,3531.2 1139.7,3529.3 1140.2,3531.1 1140.6,3529.4 1141,3534.3 1141.4,3530.9 1141.8,3531.6 1142.2,3529.9 1142.7,3530.7 1143.1,3533.9 1143.5,3533.8 1143.9,3533.4 1144.3,3534.3 1144.7,3534.6 1145.2,3527.9 1145.6,3529.8 1146,3528.5 1146.4,3533.5 1146.8,3528.8 1147.2,3533.3 1147.7,3529.2 1148.1,3529.3 1148.5,3530.1 1148.9,3534 1149.3,3529.6 1149.7,3529.2 1150.2,3533.2 1150.6,3529.7 1151,3531.9 1151.4,3531.2 1151.8,3532.8 1152.2,3531.3 1152.7,3529.5 1153.1,3528.9 1153.5,3533.7 1153.9,3529.5 1154.3,3529.7 1154.7,3531.9 1155.2,3534.4 1155.6,3530.5 1156,3530.2 1156.4,3530.3 1156.8,3531.1 1157.2,3534.3 1157.7,3532 1158.1,3531.8 1158.5,3530.2" fill="none" stroke="#000000" stroke-width="5.6" stroke-linejoin="round"/>
</g>
<rect x="116" y="3021" width="1042.5" height="770.5" fill="none" stroke="#000" stroke-width="4.5"/>
<line x1="185.5" y1="3791.5" x2="185.5" y2="3806.5" stroke="#000" stroke-width="4"/>
<line x1="324.5" y1="3791.5" x2="324.5" y2="3806.5" stroke="#000" stroke-width="4"/>
<line x1="463.5" y1="3791.5" x2="463.5" y2="3806.5" stroke="#000" stroke-width="4"/>
<line x1="602.5" y1="3791.5" x2="602.5" y2="3806.5" stroke="#000" stroke-width="4"/>
<line x1="741.5" y1="3791.5" x2="741.5" y2="3806.5" stroke="#000" stroke-width="4"/>
<line x1="880.5" y1="3791.5" x2="880.5" y2="3806.5" stroke="#000" stroke-width="4"/>
<line x1="1019.5" y1="3791.5" x2="1019.5" y2="3806.5" stroke="#000" stroke-width="4"/>
<line x1="1158.5" y1="3791.5" x2="1158.5" y2="3806.5" stroke="#000" stroke-width="4"/>
<line x1="116" y1="3791.5" x2="116" y2="3798.5" stroke="#000" stroke-width="4"/>
<line x1="255" y1="3791.5" x2="255" y2="3798.5" stroke="#000" stroke-width="4"/>
<line x1="394" y1="3791.5" x2="394" y2="3798.5" stroke="#000" stroke-width="4"/>
<line x1="533" y1="3791.5" x2="533" y2="3798.5" stroke="#000" stroke-width="4"/>
<line x1="672" y1="3791.5" x2="672" y2="3798.5" stroke="#000" stroke-width="4"/>
<line x1="811" y1="3791.5" x2="811" y2="3798.5" stroke="#000" stroke-width="4"/>
<line x1="950" y1="3791.5" x2="950" y2="3798.5" stroke="#000" stroke-width="4"/>
<line x1="1089" y1="3791.5" x2="1089" y2="3798.5" stroke="#000" stroke-width="4"/>
<text x="185.5" y="3855" font-size="47" text-anchor="middle">10</text>
<text x="324.5" y="3855" font-size="47" text-anchor="middle">20</text>
<text x="463.5" y="3855" font-size="47" text-anchor="middle">30</text>
<text x="602.5" y="3855" font-size="47" text-anchor="middle">40</text>
<text x="741.5" y="3855" font-size="47" text-anchor="middle">50</text>
<text x="880.5" y="3855" font-size="47" text-anchor="middle">60</text>
<text x="1019.5" y="3855" font-size="47" text-anchor="middle">70</text>
<text x="1158.5" y="3855" font-size="47" text-anchor="middle">80</text>
<text x="1139" y="3156.4" font-size="40" text-anchor="end">Cycle 5 times</text>
<text x="1142" y="3485.5" font-size="39.5" text-anchor="end">5%Fe-Bi<tspan font-size="26.1" dy="11.5">4</tspan><tspan dy="-11.5">O</tspan><tspan font-size="26.1" dy="11.5">5</tspan><tspan dy="-11.5">Br</tspan><tspan font-size="26.1" dy="11.5">2</tspan></text>
<text x="1140" y="3767" font-size="39.5" text-anchor="end">PDF#37-0699</text>
<text x="637" y="3937" font-size="58" text-anchor="middle">2 Theat (degree)</text>
<text transform="translate(61,3407) rotate(-90)" x="0" y="0" font-size="58" text-anchor="middle">Intensity (a.u.)</text>
<text x="39" y="3077.6" font-size="82" text-anchor="start">g</text>
<line x1="1170" y1="3220" x2="2365" y2="3220" stroke="#000" stroke-width="4.5"/>
<line x1="1170" y1="3492.5" x2="2365" y2="3492.5" stroke="#000" stroke-width="4.5"/>
<line x1="1170" y1="3619" x2="2365" y2="3619" stroke="#000" stroke-width="4.5"/>
<text x="1334" y="3373" font-size="45.5" text-anchor="middle">Sample</text>
<text x="1714" y="3285.4" font-size="45.5" text-anchor="middle">ICP-measured Fe</text>
<text x="1714" y="3373.6" font-size="45.5" text-anchor="middle">content before</text>
<text x="1714" y="3461.8" font-size="45.5" text-anchor="middle">reaction (mg/L)</text>
<text x="2147.5" y="3285.4" font-size="45.5" text-anchor="middle">ICP-measured Fe</text>
<text x="2147.5" y="3373.6" font-size="45.5" text-anchor="middle">content after</text>
<text x="2147.5" y="3461.8" font-size="45.5" text-anchor="middle">reaction (mg/L)</text>
<text x="1219" y="3574" font-size="45" text-anchor="start" style="font-weight:normal">Reaction Aq</text>
<text x="1714.3" y="3574" font-size="45" text-anchor="middle" style="font-weight:normal">—</text>
<text x="2146.5" y="3574" font-size="45" text-anchor="middle" style="font-weight:normal">0.022</text>
<text x="1213" y="3103" font-size="80" text-anchor="start">h</text>
</svg></body></html>
